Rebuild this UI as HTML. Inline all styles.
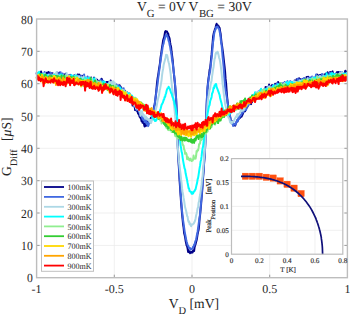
<!DOCTYPE html>
<html><head><meta charset="utf-8"><style>
html,body{margin:0;padding:0;background:#fff;}
svg{display:block;}
text{font-family:"Liberation Serif",serif;text-rendering:geometricPrecision;}
</style></head><body>
<svg width="350" height="315" viewBox="0 0 350 315">
<rect width="350" height="315" fill="#fff"/>
<g stroke="#e9e9e9" stroke-width="0.75" fill="none"><line x1="114.3" y1="19.0" x2="114.3" y2="277.7"/><line x1="192.0" y1="19.0" x2="192.0" y2="277.7"/><line x1="269.7" y1="19.0" x2="269.7" y2="277.7"/><line x1="36.6" y1="245.4" x2="347.4" y2="245.4"/><line x1="36.6" y1="213.0" x2="347.4" y2="213.0"/><line x1="36.6" y1="180.7" x2="347.4" y2="180.7"/><line x1="36.6" y1="148.3" x2="347.4" y2="148.3"/><line x1="36.6" y1="116.0" x2="347.4" y2="116.0"/><line x1="36.6" y1="83.7" x2="347.4" y2="83.7"/><line x1="36.6" y1="51.3" x2="347.4" y2="51.3"/></g>
<g stroke="#909090" stroke-width="0.9"><line x1="114.3" y1="277.7" x2="114.3" y2="274.7"/><line x1="114.3" y1="19.0" x2="114.3" y2="22.0"/><line x1="192.0" y1="277.7" x2="192.0" y2="274.7"/><line x1="192.0" y1="19.0" x2="192.0" y2="22.0"/><line x1="269.7" y1="277.7" x2="269.7" y2="274.7"/><line x1="269.7" y1="19.0" x2="269.7" y2="22.0"/><line x1="36.6" y1="245.4" x2="39.6" y2="245.4"/><line x1="347.4" y1="245.4" x2="344.4" y2="245.4"/><line x1="36.6" y1="213.0" x2="39.6" y2="213.0"/><line x1="347.4" y1="213.0" x2="344.4" y2="213.0"/><line x1="36.6" y1="180.7" x2="39.6" y2="180.7"/><line x1="347.4" y1="180.7" x2="344.4" y2="180.7"/><line x1="36.6" y1="148.3" x2="39.6" y2="148.3"/><line x1="347.4" y1="148.3" x2="344.4" y2="148.3"/><line x1="36.6" y1="116.0" x2="39.6" y2="116.0"/><line x1="347.4" y1="116.0" x2="344.4" y2="116.0"/><line x1="36.6" y1="83.7" x2="39.6" y2="83.7"/><line x1="347.4" y1="83.7" x2="344.4" y2="83.7"/><line x1="36.6" y1="51.3" x2="39.6" y2="51.3"/><line x1="347.4" y1="51.3" x2="344.4" y2="51.3"/></g>
<g fill="none" stroke-width="2" stroke-linejoin="round"><path d="M36.6 73.1L37.1 75.2L37.6 75.1L38.1 73.1L38.6 73.2L39.1 73.0L39.6 74.7L40.1 73.8L40.6 74.8L41.1 71.5L41.6 76.2L42.1 74.0L42.6 75.1L43.1 74.3L43.6 74.0L44.1 75.2L44.6 76.1L45.1 74.3L45.6 74.1L46.1 75.2L46.6 73.0L47.1 72.6L47.6 74.9L48.1 73.8L48.6 72.0L49.1 72.9L49.6 73.4L50.1 72.9L50.6 72.8L51.1 74.7L51.6 75.7L52.1 73.8L52.6 73.2L53.1 75.1L53.6 75.9L54.1 74.8L54.6 76.0L55.1 76.5L55.6 75.1L56.1 73.9L56.6 76.0L57.1 75.7L57.6 76.6L58.1 73.3L58.6 74.4L59.1 73.7L59.6 72.6L60.1 75.0L60.6 76.0L61.1 73.9L61.6 77.2L62.1 76.4L62.6 76.2L63.1 76.1L63.6 77.6L64.1 74.4L64.6 77.1L65.1 77.0L65.6 73.8L66.1 76.4L66.6 75.9L67.1 77.7L67.6 75.8L68.1 76.2L68.6 76.7L69.1 75.4L69.6 77.6L70.1 76.8L70.6 77.7L71.1 76.5L71.6 78.8L72.1 78.1L72.6 77.4L73.1 78.5L73.6 79.1L74.1 79.9L74.6 75.1L75.1 78.5L75.6 77.6L76.1 76.7L76.6 75.4L77.1 78.1L77.6 74.6L78.1 77.6L78.6 78.5L79.1 74.5L79.6 76.9L80.1 75.4L80.6 78.0L81.1 80.2L81.6 81.1L82.1 75.7L82.6 77.4L83.1 79.5L83.6 81.1L84.1 79.2L84.6 78.0L85.1 79.6L85.6 78.8L86.1 78.9L86.6 78.6L87.1 80.1L87.6 79.9L88.1 79.6L88.6 79.7L89.1 77.8L89.6 78.8L90.1 81.4L90.6 79.3L91.1 77.5L91.6 81.4L92.1 80.6L92.6 82.4L93.1 79.4L93.6 79.0L94.1 77.6L94.6 81.7L95.1 83.7L95.6 79.0L96.1 79.5L96.6 81.1L97.1 79.6L97.6 80.6L98.1 80.7L98.6 81.7L99.1 82.8L99.6 81.4L100.1 82.6L100.6 81.3L101.1 82.4L101.6 78.7L102.1 80.0L102.6 83.3L103.1 81.5L103.6 83.2L104.1 83.0L104.6 84.5L105.1 83.9L105.6 84.3L106.1 83.2L106.6 82.0L107.1 81.9L107.6 82.5L108.1 81.8L108.6 83.2L109.1 83.8L109.6 84.0L110.1 83.1L110.6 80.5L111.1 83.3L111.6 83.7L112.1 85.0L112.6 84.3L113.1 82.3L113.6 82.9L114.1 87.0L114.6 85.5L115.1 87.6L115.6 88.7L116.1 84.8L116.6 86.3L117.1 86.6L117.6 87.5L118.1 87.2L118.6 87.0L119.1 87.4L119.6 85.3L120.1 87.0L120.6 86.6L121.1 88.2L121.6 88.2L122.1 90.2L122.6 91.0L123.1 90.7L123.6 91.2L124.1 90.6L124.6 90.5L125.1 91.1L125.6 91.6L126.1 93.2L126.6 93.2L127.1 94.8L127.6 93.1L128.1 97.0L128.6 95.8L129.1 96.7L129.6 98.5L130.1 99.3L130.6 101.3L131.1 100.4L131.6 100.4L132.1 101.7L132.6 105.6L133.1 104.7L133.6 103.8L134.1 106.3L134.6 104.6L135.1 110.1L135.6 106.7L136.1 110.3L136.6 110.7L137.1 108.4L137.6 111.8L138.1 113.7L138.6 114.0L139.1 114.7L139.6 116.8L140.1 117.1L140.6 118.2L141.1 118.7L141.6 121.2L142.1 119.8L142.6 122.8L143.1 121.7L143.6 121.7L144.1 124.4L144.6 126.5L145.1 126.0L145.6 124.0L146.1 125.8L146.6 124.3L147.1 124.3L147.6 124.3L148.1 120.9L148.6 123.4L149.1 121.8L149.6 121.7L150.1 120.2L150.6 118.5L151.1 117.6L151.6 117.9L152.1 117.2L152.6 114.2L153.1 113.2L153.6 110.0L154.1 106.4L154.6 104.9L155.1 101.7L155.6 97.2L156.1 92.6L156.6 87.4L157.1 82.1L157.6 78.3L158.1 75.6L158.6 72.2L159.1 68.5L159.6 65.6L160.1 62.3L160.6 57.1L161.1 54.2L161.6 50.7L162.1 46.8L162.6 43.8L163.1 40.3L163.6 38.7L164.1 37.4L164.6 34.6L165.1 31.8L165.6 31.0L166.1 31.4L166.6 31.4L167.1 31.7L167.6 33.9L168.1 33.3L168.6 35.8L169.1 37.2L169.6 38.6L170.1 42.4L170.6 44.9L171.1 47.1L171.6 52.0L172.1 55.6L172.6 59.4L173.1 65.2L173.6 70.9L174.1 75.7L174.6 80.3L175.1 85.4L175.6 91.5L176.1 98.3L176.6 109.7L177.1 123.2L177.6 142.3L178.1 154.4L178.6 162.8L179.1 171.1L179.6 180.6L180.1 188.0L180.6 195.4L181.1 202.9L181.6 208.6L182.1 214.5L182.6 219.3L183.1 224.7L183.6 227.7L184.1 232.9L184.6 234.9L185.1 237.2L185.6 240.7L186.1 243.1L186.6 245.5L187.1 246.2L187.6 248.6L188.1 251.9L188.6 250.1L189.1 252.2L189.6 252.3L190.1 253.1L190.6 251.9L191.1 252.0L191.6 252.7L192.1 251.9L192.6 252.5L193.1 250.4L193.6 250.3L194.1 251.0L194.6 247.2L195.1 245.5L195.6 244.1L196.1 241.9L196.6 240.3L197.1 237.5L197.6 234.2L198.1 231.7L198.6 229.9L199.1 225.5L199.6 218.4L200.1 215.0L200.6 209.1L201.1 204.3L201.6 197.3L202.1 192.0L202.6 184.4L203.1 177.5L203.6 170.1L204.1 163.1L204.6 155.7L205.1 147.5L205.6 136.2L206.1 122.5L206.6 106.4L207.1 94.2L207.6 87.0L208.1 81.6L208.6 77.9L209.1 74.5L209.6 69.8L210.1 68.4L210.6 63.8L211.1 58.9L211.6 54.4L212.1 48.2L212.6 42.8L213.1 36.5L213.6 34.0L214.1 31.7L214.6 30.4L215.1 28.9L215.6 27.5L216.1 25.1L216.6 23.8L217.1 25.3L217.6 25.0L218.1 26.0L218.6 26.0L219.1 27.3L219.6 27.9L220.1 31.1L220.6 33.7L221.1 38.7L221.6 43.1L222.1 46.2L222.6 50.0L223.1 53.5L223.6 58.2L224.1 62.5L224.6 66.8L225.1 71.9L225.6 78.9L226.1 83.3L226.6 90.6L227.1 96.9L227.6 101.4L228.1 105.4L228.6 109.6L229.1 112.8L229.6 115.3L230.1 116.5L230.6 119.2L231.1 120.8L231.6 122.9L232.1 121.2L232.6 124.1L233.1 124.1L233.6 124.9L234.1 124.8L234.6 125.4L235.1 125.6L235.6 124.1L236.1 123.1L236.6 122.0L237.1 120.3L237.6 120.9L238.1 120.0L238.6 118.8L239.1 118.5L239.6 117.6L240.1 117.8L240.6 116.4L241.1 115.5L241.6 116.6L242.1 115.1L242.6 114.5L243.1 113.1L243.6 111.7L244.1 110.7L244.6 110.4L245.1 111.3L245.6 109.5L246.1 106.7L246.6 108.1L247.1 105.4L247.6 106.5L248.1 104.0L248.6 103.1L249.1 104.3L249.6 103.2L250.1 100.2L250.6 103.0L251.1 104.1L251.6 98.1L252.1 102.1L252.6 98.1L253.1 97.5L253.6 97.1L254.1 94.9L254.6 98.3L255.1 96.7L255.6 94.7L256.1 95.2L256.6 93.4L257.1 94.9L257.6 96.4L258.1 92.4L258.6 93.6L259.1 93.9L259.6 94.7L260.1 94.9L260.6 91.7L261.1 90.7L261.6 91.7L262.1 90.5L262.6 90.6L263.1 92.5L263.6 93.3L264.1 90.9L264.6 89.8L265.1 90.7L265.6 87.0L266.1 89.3L266.6 87.5L267.1 91.7L267.6 89.0L268.1 88.3L268.6 87.8L269.1 84.6L269.6 88.8L270.1 90.0L270.6 86.5L271.1 88.4L271.6 88.3L272.1 85.0L272.6 88.2L273.1 88.6L273.6 86.5L274.1 86.0L274.6 87.2L275.1 83.8L275.6 85.7L276.1 87.0L276.6 83.8L277.1 86.6L277.6 84.3L278.1 81.9L278.6 84.7L279.1 83.6L279.6 85.4L280.1 83.4L280.6 86.2L281.1 83.7L281.6 85.2L282.1 84.0L282.6 84.4L283.1 86.2L283.6 84.6L284.1 83.5L284.6 82.4L285.1 86.0L285.6 84.4L286.1 82.7L286.6 83.4L287.1 81.7L287.6 82.0L288.1 82.7L288.6 84.4L289.1 84.3L289.6 82.9L290.1 85.2L290.6 85.4L291.1 84.5L291.6 85.2L292.1 83.2L292.6 83.0L293.1 83.4L293.6 82.3L294.1 83.1L294.6 80.4L295.1 83.9L295.6 80.7L296.1 81.2L296.6 79.2L297.1 81.5L297.6 82.3L298.1 82.0L298.6 81.7L299.1 78.2L299.6 79.2L300.1 79.8L300.6 79.2L301.1 82.2L301.6 80.8L302.1 80.4L302.6 81.0L303.1 78.7L303.6 78.7L304.1 78.8L304.6 80.1L305.1 80.0L305.6 80.0L306.1 80.5L306.6 77.0L307.1 77.9L307.6 79.2L308.1 76.8L308.6 78.0L309.1 80.2L309.6 80.6L310.1 80.7L310.6 79.6L311.1 79.3L311.6 81.3L312.1 79.2L312.6 80.6L313.1 81.5L313.6 78.9L314.1 77.6L314.6 78.2L315.1 79.0L315.6 78.7L316.1 78.0L316.6 78.1L317.1 74.6L317.6 75.6L318.1 77.2L318.6 75.8L319.1 75.3L319.6 75.0L320.1 75.2L320.6 76.0L321.1 74.7L321.6 76.3L322.1 78.1L322.6 75.4L323.1 77.4L323.6 76.2L324.1 74.4L324.6 75.4L325.1 74.3L325.6 76.6L326.1 73.5L326.6 77.1L327.1 76.1L327.6 72.3L328.1 75.6L328.6 76.5L329.1 73.2L329.6 75.8L330.1 72.1L330.6 75.4L331.1 72.6L331.6 75.6L332.1 72.6L332.6 71.4L333.1 75.9L333.6 78.4L334.1 74.0L334.6 75.9L335.1 74.5L335.6 73.8L336.1 74.7L336.6 76.3L337.1 72.1L337.6 74.0L338.1 73.8L338.6 71.9L339.1 76.3L339.6 76.8L340.1 72.8L340.6 76.8L341.1 74.4L341.6 74.0L342.1 76.5L342.6 74.6L343.1 74.4L343.6 75.4L344.1 75.1L344.6 74.5L345.1 71.1L345.6 70.7L346.1 74.6L346.6 71.9L347.1 73.2" stroke="#000088"/><path d="M36.6 72.0L37.1 74.9L37.6 76.5L38.1 77.6L38.6 74.8L39.1 74.9L39.6 77.4L40.1 77.7L40.6 75.8L41.1 76.3L41.6 74.3L42.1 76.1L42.6 73.6L43.1 74.9L43.6 74.8L44.1 74.3L44.6 72.0L45.1 74.2L45.6 76.0L46.1 75.5L46.6 74.9L47.1 76.4L47.6 76.5L48.1 76.7L48.6 74.2L49.1 75.4L49.6 75.2L50.1 74.1L50.6 72.9L51.1 74.7L51.6 74.0L52.1 78.6L52.6 75.7L53.1 75.9L53.6 75.6L54.1 78.6L54.6 74.4L55.1 75.8L55.6 75.1L56.1 75.4L56.6 75.0L57.1 76.1L57.6 72.5L58.1 74.8L58.6 77.6L59.1 75.4L59.6 75.8L60.1 74.3L60.6 72.2L61.1 76.3L61.6 78.1L62.1 75.7L62.6 73.5L63.1 76.0L63.6 75.5L64.1 77.2L64.6 77.7L65.1 76.1L65.6 77.0L66.1 74.6L66.6 78.7L67.1 77.3L67.6 78.7L68.1 79.1L68.6 77.1L69.1 77.4L69.6 76.3L70.1 74.7L70.6 77.0L71.1 77.7L71.6 76.3L72.1 78.9L72.6 78.0L73.1 78.7L73.6 76.7L74.1 75.6L74.6 78.7L75.1 78.8L75.6 78.3L76.1 77.9L76.6 78.2L77.1 78.2L77.6 77.7L78.1 75.7L78.6 79.7L79.1 76.8L79.6 78.3L80.1 77.9L80.6 78.7L81.1 75.7L81.6 80.1L82.1 79.3L82.6 79.3L83.1 80.2L83.6 77.5L84.1 74.4L84.6 79.5L85.1 80.8L85.6 80.5L86.1 77.8L86.6 78.6L87.1 79.7L87.6 76.5L88.1 78.2L88.6 78.4L89.1 81.4L89.6 78.5L90.1 82.4L90.6 80.1L91.1 78.1L91.6 83.4L92.1 79.2L92.6 81.5L93.1 82.9L93.6 80.1L94.1 79.4L94.6 83.0L95.1 82.0L95.6 79.9L96.1 80.6L96.6 81.4L97.1 83.5L97.6 82.0L98.1 83.5L98.6 84.6L99.1 83.6L99.6 84.1L100.1 84.0L100.6 79.6L101.1 83.7L101.6 82.6L102.1 82.2L102.6 80.8L103.1 80.7L103.6 81.8L104.1 83.2L104.6 82.0L105.1 82.8L105.6 83.5L106.1 85.3L106.6 83.8L107.1 84.2L107.6 86.0L108.1 83.8L108.6 85.0L109.1 82.6L109.6 84.7L110.1 84.7L110.6 85.0L111.1 84.3L111.6 83.9L112.1 84.7L112.6 84.4L113.1 86.2L113.6 86.2L114.1 83.6L114.6 86.3L115.1 84.9L115.6 86.2L116.1 85.1L116.6 84.5L117.1 88.4L117.6 88.1L118.1 86.1L118.6 85.2L119.1 87.2L119.6 86.5L120.1 88.1L120.6 89.3L121.1 91.0L121.6 88.6L122.1 91.3L122.6 91.3L123.1 89.5L123.6 88.2L124.1 91.9L124.6 91.9L125.1 94.7L125.6 93.2L126.1 93.0L126.6 95.1L127.1 91.9L127.6 94.6L128.1 94.7L128.6 98.9L129.1 97.7L129.6 93.4L130.1 100.7L130.6 98.3L131.1 101.6L131.6 100.4L132.1 102.2L132.6 103.3L133.1 102.9L133.6 102.4L134.1 106.4L134.6 105.6L135.1 105.6L135.6 107.3L136.1 106.5L136.6 110.2L137.1 108.7L137.6 109.4L138.1 109.6L138.6 109.1L139.1 109.7L139.6 112.7L140.1 113.7L140.6 116.0L141.1 115.8L141.6 114.3L142.1 117.7L142.6 119.1L143.1 119.8L143.6 119.3L144.1 117.8L144.6 122.1L145.1 120.1L145.6 122.4L146.1 120.3L146.6 123.9L147.1 122.5L147.6 125.1L148.1 126.2L148.6 125.0L149.1 122.3L149.6 121.8L150.1 121.5L150.6 122.5L151.1 120.8L151.6 119.2L152.1 117.6L152.6 115.9L153.1 113.8L153.6 112.0L154.1 108.3L154.6 105.5L155.1 100.9L155.6 97.6L156.1 94.2L156.6 90.1L157.1 87.1L157.6 83.8L158.1 79.1L158.6 75.3L159.1 71.7L159.6 68.3L160.1 64.1L160.6 60.9L161.1 57.1L161.6 53.8L162.1 50.8L162.6 47.4L163.1 44.8L163.6 43.6L164.1 40.5L164.6 39.4L165.1 37.5L165.6 35.8L166.1 35.1L166.6 34.9L167.1 36.1L167.6 37.0L168.1 38.2L168.6 40.8L169.1 41.8L169.6 44.7L170.1 46.7L170.6 50.1L171.1 52.3L171.6 55.7L172.1 60.4L172.6 62.8L173.1 66.5L173.6 70.2L174.1 75.2L174.6 79.1L175.1 84.7L175.6 91.7L176.1 99.2L176.6 109.2L177.1 123.2L177.6 139.6L178.1 151.8L178.6 160.4L179.1 168.1L179.6 176.6L180.1 183.3L180.6 191.6L181.1 199.1L181.6 205.3L182.1 211.5L182.6 215.8L183.1 220.3L183.6 223.6L184.1 227.4L184.6 231.1L185.1 233.9L185.6 236.4L186.1 239.2L186.6 241.5L187.1 243.1L187.6 245.4L188.1 245.4L188.6 247.0L189.1 248.1L189.6 248.3L190.1 248.0L190.6 249.7L191.1 249.4L191.6 249.2L192.1 248.8L192.6 248.1L193.1 246.7L193.6 246.8L194.1 244.6L194.6 244.8L195.1 242.0L195.6 241.0L196.1 239.5L196.6 236.7L197.1 234.0L197.6 231.7L198.1 228.0L198.6 224.5L199.1 220.6L199.6 218.1L200.1 213.0L200.6 208.2L201.1 201.8L201.6 196.9L202.1 189.3L202.6 183.8L203.1 175.9L203.6 171.2L204.1 162.1L204.6 156.4L205.1 147.3L205.6 135.0L206.1 122.6L206.6 106.1L207.1 95.1L207.6 87.3L208.1 83.4L208.6 79.1L209.1 76.1L209.6 73.3L210.1 71.6L210.6 66.8L211.1 62.5L211.6 58.0L212.1 53.2L212.6 47.5L213.1 41.7L213.6 39.0L214.1 34.1L214.6 31.9L215.1 30.3L215.6 29.5L216.1 27.1L216.6 26.7L217.1 26.8L217.6 26.6L218.1 27.8L218.6 28.5L219.1 29.0L219.6 31.2L220.1 34.0L220.6 37.3L221.1 42.8L221.6 45.0L222.1 50.2L222.6 56.7L223.1 61.4L223.6 66.5L224.1 73.7L224.6 81.2L225.1 85.8L225.6 90.7L226.1 93.3L226.6 96.3L227.1 99.2L227.6 103.3L228.1 105.8L228.6 110.0L229.1 113.8L229.6 115.0L230.1 116.8L230.6 120.0L231.1 121.3L231.6 122.2L232.1 123.2L232.6 123.1L233.1 125.9L233.6 123.8L234.1 124.4L234.6 123.7L235.1 124.1L235.6 124.7L236.1 122.7L236.6 122.0L237.1 120.3L237.6 121.5L238.1 119.5L238.6 117.1L239.1 118.5L239.6 116.5L240.1 116.4L240.6 115.4L241.1 115.1L241.6 113.8L242.1 111.6L242.6 109.8L243.1 112.5L243.6 110.1L244.1 110.5L244.6 109.2L245.1 106.2L245.6 106.2L246.1 110.0L246.6 106.9L247.1 106.9L247.6 104.7L248.1 105.8L248.6 104.6L249.1 103.8L249.6 103.5L250.1 102.0L250.6 100.9L251.1 100.3L251.6 100.1L252.1 98.9L252.6 100.6L253.1 97.9L253.6 97.3L254.1 95.8L254.6 97.8L255.1 94.5L255.6 93.5L256.1 94.2L256.6 95.9L257.1 92.8L257.6 96.1L258.1 93.9L258.6 91.3L259.1 92.4L259.6 95.2L260.1 91.0L260.6 89.6L261.1 92.0L261.6 93.1L262.1 92.4L262.6 90.2L263.1 90.7L263.6 91.1L264.1 92.1L264.6 93.5L265.1 90.1L265.6 91.4L266.1 89.0L266.6 89.9L267.1 87.7L267.6 87.6L268.1 88.6L268.6 86.2L269.1 88.2L269.6 86.2L270.1 87.2L270.6 86.9L271.1 86.8L271.6 87.1L272.1 88.1L272.6 91.4L273.1 85.6L273.6 87.8L274.1 86.7L274.6 85.4L275.1 86.8L275.6 84.7L276.1 86.3L276.6 88.1L277.1 83.2L277.6 85.9L278.1 85.8L278.6 84.0L279.1 86.0L279.6 85.6L280.1 84.7L280.6 86.4L281.1 83.0L281.6 85.3L282.1 84.2L282.6 83.2L283.1 84.7L283.6 84.5L284.1 86.1L284.6 82.5L285.1 84.3L285.6 83.7L286.1 86.6L286.6 82.6L287.1 85.5L287.6 81.2L288.1 83.9L288.6 83.2L289.1 83.9L289.6 82.6L290.1 81.0L290.6 81.5L291.1 85.3L291.6 84.2L292.1 82.5L292.6 85.2L293.1 82.6L293.6 82.5L294.1 81.6L294.6 84.6L295.1 85.6L295.6 81.7L296.1 83.0L296.6 83.5L297.1 85.1L297.6 78.7L298.1 82.3L298.6 82.7L299.1 79.6L299.6 82.0L300.1 81.4L300.6 81.7L301.1 80.0L301.6 80.6L302.1 79.1L302.6 80.7L303.1 80.2L303.6 79.5L304.1 78.0L304.6 82.4L305.1 82.2L305.6 81.5L306.1 79.6L306.6 79.8L307.1 82.4L307.6 81.0L308.1 78.0L308.6 79.4L309.1 79.1L309.6 78.1L310.1 77.3L310.6 80.4L311.1 79.7L311.6 78.6L312.1 76.5L312.6 78.5L313.1 79.2L313.6 80.3L314.1 78.4L314.6 80.1L315.1 78.8L315.6 77.2L316.1 74.5L316.6 76.8L317.1 76.1L317.6 77.8L318.1 78.3L318.6 80.0L319.1 77.9L319.6 75.7L320.1 80.2L320.6 77.1L321.1 76.1L321.6 75.9L322.1 73.9L322.6 76.7L323.1 76.4L323.6 78.2L324.1 77.8L324.6 78.0L325.1 78.3L325.6 76.1L326.1 76.0L326.6 76.4L327.1 74.9L327.6 76.0L328.1 75.5L328.6 76.8L329.1 75.5L329.6 72.8L330.1 75.5L330.6 77.2L331.1 73.1L331.6 74.8L332.1 76.1L332.6 74.5L333.1 75.5L333.6 76.1L334.1 74.2L334.6 76.3L335.1 76.5L335.6 73.5L336.1 75.4L336.6 76.4L337.1 74.4L337.6 75.5L338.1 75.6L338.6 74.1L339.1 75.4L339.6 74.0L340.1 72.0L340.6 73.6L341.1 74.3L341.6 74.0L342.1 72.0L342.6 74.0L343.1 75.3L343.6 74.0L344.1 75.4L344.6 75.8L345.1 74.1L345.6 75.0L346.1 73.6L346.6 75.1L347.1 73.3" stroke="#4169e1"/><path d="M36.6 74.8L37.1 75.5L37.6 74.9L38.1 77.0L38.6 76.7L39.1 73.8L39.6 75.7L40.1 77.0L40.6 75.5L41.1 77.0L41.6 76.5L42.1 76.8L42.6 75.3L43.1 75.8L43.6 76.0L44.1 73.4L44.6 73.9L45.1 73.9L45.6 77.6L46.1 75.7L46.6 75.9L47.1 76.1L47.6 75.3L48.1 74.9L48.6 76.8L49.1 75.4L49.6 77.7L50.1 76.2L50.6 76.1L51.1 75.6L51.6 75.8L52.1 75.8L52.6 77.5L53.1 78.7L53.6 74.0L54.1 76.0L54.6 75.9L55.1 73.8L55.6 74.3L56.1 74.5L56.6 71.9L57.1 76.2L57.6 75.2L58.1 75.3L58.6 75.6L59.1 76.0L59.6 78.9L60.1 76.1L60.6 77.1L61.1 75.4L61.6 76.7L62.1 76.0L62.6 76.2L63.1 75.4L63.6 75.8L64.1 77.4L64.6 78.0L65.1 77.3L65.6 76.0L66.1 76.9L66.6 72.9L67.1 77.4L67.6 76.0L68.1 76.6L68.6 77.9L69.1 76.1L69.6 78.1L70.1 76.4L70.6 78.3L71.1 77.5L71.6 78.6L72.1 80.2L72.6 77.1L73.1 76.9L73.6 76.9L74.1 77.9L74.6 81.0L75.1 76.4L75.6 74.6L76.1 76.3L76.6 75.3L77.1 77.2L77.6 78.2L78.1 77.1L78.6 77.2L79.1 76.2L79.6 79.1L80.1 77.7L80.6 80.5L81.1 80.1L81.6 77.2L82.1 77.9L82.6 78.6L83.1 79.6L83.6 76.6L84.1 78.7L84.6 81.6L85.1 79.0L85.6 79.5L86.1 79.3L86.6 77.9L87.1 81.1L87.6 80.4L88.1 80.0L88.6 80.9L89.1 81.1L89.6 77.3L90.1 80.9L90.6 79.6L91.1 80.6L91.6 78.9L92.1 78.7L92.6 81.2L93.1 80.6L93.6 80.1L94.1 80.5L94.6 81.1L95.1 81.2L95.6 78.3L96.1 80.8L96.6 81.9L97.1 83.3L97.6 83.9L98.1 81.5L98.6 85.6L99.1 83.3L99.6 84.0L100.1 83.0L100.6 82.9L101.1 86.1L101.6 84.0L102.1 84.4L102.6 85.7L103.1 86.5L103.6 82.4L104.1 84.2L104.6 84.3L105.1 86.8L105.6 87.7L106.1 84.7L106.6 85.1L107.1 86.1L107.6 86.3L108.1 84.1L108.6 85.5L109.1 83.6L109.6 81.3L110.1 82.6L110.6 84.8L111.1 85.7L111.6 81.9L112.1 82.5L112.6 85.2L113.1 81.3L113.6 86.5L114.1 86.9L114.6 82.4L115.1 87.4L115.6 86.2L116.1 88.7L116.6 88.0L117.1 87.6L117.6 88.3L118.1 90.0L118.6 89.9L119.1 89.7L119.6 87.8L120.1 90.8L120.6 89.7L121.1 92.2L121.6 90.0L122.1 90.1L122.6 89.6L123.1 91.5L123.6 90.6L124.1 90.3L124.6 93.5L125.1 94.6L125.6 91.9L126.1 91.8L126.6 94.6L127.1 92.4L127.6 97.5L128.1 93.9L128.6 96.2L129.1 94.4L129.6 96.8L130.1 99.1L130.6 98.4L131.1 98.3L131.6 103.0L132.1 101.6L132.6 101.6L133.1 101.9L133.6 102.8L134.1 105.5L134.6 103.5L135.1 105.7L135.6 105.2L136.1 108.6L136.6 107.0L137.1 108.3L137.6 108.6L138.1 107.3L138.6 109.6L139.1 110.7L139.6 108.5L140.1 111.3L140.6 115.7L141.1 111.4L141.6 113.4L142.1 111.3L142.6 114.7L143.1 114.1L143.6 116.6L144.1 116.1L144.6 115.3L145.1 118.5L145.6 117.4L146.1 116.8L146.6 118.8L147.1 118.0L147.6 119.8L148.1 119.1L148.6 119.2L149.1 121.1L149.6 119.8L150.1 122.4L150.6 119.9L151.1 122.9L151.6 121.0L152.1 119.9L152.6 119.0L153.1 119.1L153.6 117.3L154.1 115.9L154.6 115.0L155.1 112.3L155.6 110.3L156.1 108.5L156.6 106.6L157.1 103.5L157.6 101.1L158.1 98.6L158.6 96.6L159.1 94.6L159.6 90.9L160.1 88.7L160.6 86.1L161.1 83.1L161.6 79.8L162.1 74.8L162.6 71.3L163.1 69.0L163.6 65.1L164.1 63.1L164.6 61.3L165.1 59.4L165.6 57.4L166.1 54.8L166.6 55.5L167.1 55.1L167.6 57.3L168.1 60.4L168.6 62.3L169.1 64.0L169.6 66.9L170.1 70.1L170.6 73.5L171.1 78.7L171.6 83.0L172.1 88.1L172.6 91.0L173.1 95.5L173.6 99.8L174.1 106.0L174.6 110.1L175.1 115.9L175.6 120.8L176.1 127.3L176.6 133.8L177.1 139.9L177.6 146.5L178.1 150.3L178.6 156.6L179.1 162.9L179.6 165.5L180.1 170.6L180.6 174.3L181.1 179.7L181.6 183.0L182.1 188.7L182.6 192.0L183.1 194.7L183.6 197.9L184.1 200.6L184.6 204.2L185.1 207.3L185.6 209.0L186.1 210.8L186.6 213.2L187.1 216.0L187.6 216.6L188.1 220.4L188.6 221.9L189.1 221.2L189.6 224.3L190.1 223.4L190.6 224.8L191.1 226.2L191.6 224.5L192.1 224.4L192.6 224.5L193.1 223.9L193.6 223.8L194.1 222.8L194.6 221.8L195.1 220.4L195.6 218.4L196.1 215.5L196.6 213.7L197.1 211.2L197.6 208.2L198.1 207.3L198.6 202.7L199.1 201.1L199.6 197.2L200.1 194.8L200.6 191.4L201.1 188.0L201.6 184.2L202.1 178.6L202.6 176.1L203.1 169.7L203.6 163.2L204.1 156.6L204.6 151.9L205.1 144.4L205.6 135.1L206.1 126.9L206.6 119.2L207.1 110.8L207.6 103.6L208.1 99.0L208.6 96.3L209.1 93.2L209.6 90.0L210.1 88.8L210.6 84.8L211.1 82.4L211.6 80.4L212.1 76.1L212.6 72.8L213.1 69.4L213.6 66.7L214.1 62.7L214.6 58.7L215.1 57.7L215.6 53.6L216.1 52.6L216.6 53.4L217.1 52.4L217.6 51.7L218.1 53.1L218.6 55.2L219.1 57.8L219.6 59.0L220.1 61.6L220.6 64.8L221.1 68.8L221.6 73.1L222.1 77.9L222.6 83.8L223.1 87.3L223.6 92.3L224.1 96.1L224.6 99.6L225.1 104.0L225.6 105.9L226.1 108.0L226.6 110.9L227.1 112.2L227.6 114.7L228.1 116.5L228.6 118.0L229.1 118.2L229.6 120.0L230.1 122.4L230.6 121.8L231.1 123.2L231.6 123.4L232.1 121.6L232.6 122.6L233.1 121.7L233.6 121.0L234.1 120.8L234.6 119.1L235.1 118.1L235.6 117.6L236.1 116.5L236.6 116.7L237.1 114.3L237.6 116.6L238.1 114.0L238.6 114.3L239.1 113.7L239.6 113.1L240.1 112.4L240.6 111.7L241.1 109.2L241.6 109.8L242.1 110.9L242.6 108.0L243.1 107.4L243.6 110.5L244.1 108.9L244.6 108.9L245.1 106.1L245.6 106.0L246.1 106.1L246.6 105.3L247.1 103.9L247.6 101.4L248.1 101.8L248.6 100.3L249.1 103.6L249.6 100.6L250.1 100.0L250.6 99.7L251.1 99.0L251.6 99.2L252.1 97.0L252.6 95.2L253.1 98.8L253.6 95.2L254.1 94.5L254.6 93.7L255.1 93.5L255.6 94.0L256.1 94.6L256.6 92.3L257.1 93.8L257.6 92.2L258.1 94.5L258.6 91.5L259.1 93.3L259.6 93.8L260.1 90.8L260.6 92.4L261.1 91.5L261.6 89.8L262.1 90.7L262.6 91.7L263.1 90.5L263.6 89.4L264.1 89.9L264.6 90.7L265.1 91.5L265.6 91.1L266.1 91.0L266.6 92.0L267.1 88.4L267.6 88.4L268.1 87.3L268.6 91.0L269.1 86.5L269.6 89.6L270.1 90.4L270.6 87.6L271.1 88.3L271.6 88.6L272.1 90.0L272.6 86.7L273.1 89.0L273.6 89.6L274.1 88.5L274.6 88.3L275.1 89.7L275.6 88.2L276.1 87.8L276.6 87.0L277.1 88.1L277.6 86.7L278.1 87.7L278.6 86.8L279.1 88.0L279.6 85.0L280.1 86.3L280.6 86.3L281.1 86.3L281.6 87.0L282.1 86.2L282.6 86.9L283.1 88.1L283.6 86.7L284.1 84.0L284.6 83.0L285.1 85.8L285.6 84.0L286.1 84.8L286.6 84.2L287.1 85.9L287.6 85.6L288.1 82.2L288.6 83.8L289.1 82.8L289.6 81.1L290.1 83.9L290.6 82.8L291.1 83.2L291.6 85.9L292.1 84.1L292.6 83.8L293.1 82.0L293.6 81.1L294.1 84.0L294.6 81.6L295.1 82.1L295.6 81.6L296.1 82.5L296.6 85.8L297.1 82.5L297.6 82.6L298.1 83.1L298.6 83.3L299.1 81.5L299.6 80.6L300.1 81.8L300.6 81.6L301.1 80.9L301.6 80.4L302.1 80.4L302.6 81.2L303.1 81.6L303.6 79.7L304.1 80.8L304.6 81.7L305.1 81.3L305.6 79.4L306.1 80.2L306.6 80.7L307.1 81.5L307.6 78.3L308.1 81.4L308.6 80.0L309.1 80.9L309.6 81.2L310.1 78.9L310.6 79.1L311.1 79.8L311.6 81.0L312.1 78.8L312.6 77.5L313.1 78.4L313.6 79.7L314.1 80.9L314.6 78.8L315.1 79.2L315.6 79.1L316.1 78.7L316.6 77.9L317.1 78.1L317.6 78.6L318.1 78.4L318.6 78.0L319.1 76.6L319.6 76.5L320.1 76.1L320.6 78.5L321.1 78.9L321.6 77.5L322.1 79.2L322.6 76.8L323.1 76.9L323.6 75.4L324.1 77.9L324.6 77.1L325.1 77.9L325.6 78.4L326.1 77.4L326.6 76.0L327.1 77.4L327.6 77.2L328.1 77.2L328.6 77.6L329.1 76.5L329.6 76.2L330.1 78.4L330.6 77.5L331.1 76.0L331.6 74.6L332.1 75.0L332.6 76.4L333.1 77.0L333.6 78.4L334.1 75.0L334.6 75.8L335.1 75.5L335.6 76.1L336.1 75.3L336.6 74.5L337.1 77.0L337.6 76.0L338.1 77.8L338.6 75.2L339.1 75.9L339.6 76.3L340.1 72.9L340.6 73.8L341.1 75.9L341.6 75.0L342.1 72.3L342.6 73.7L343.1 73.4L343.6 74.3L344.1 76.5L344.6 73.7L345.1 77.0L345.6 74.4L346.1 73.7L346.6 76.6L347.1 75.6" stroke="#add8e6"/><path d="M36.6 75.5L37.1 75.6L37.6 73.1L38.1 75.0L38.6 74.2L39.1 71.8L39.6 74.9L40.1 76.5L40.6 74.5L41.1 74.4L41.6 76.7L42.1 74.0L42.6 74.0L43.1 74.5L43.6 76.2L44.1 76.2L44.6 74.8L45.1 75.3L45.6 76.2L46.1 75.7L46.6 75.3L47.1 75.2L47.6 77.9L48.1 76.9L48.6 80.8L49.1 78.1L49.6 76.2L50.1 77.0L50.6 77.6L51.1 77.4L51.6 77.2L52.1 77.2L52.6 76.2L53.1 77.1L53.6 78.5L54.1 74.7L54.6 75.0L55.1 76.4L55.6 77.4L56.1 77.1L56.6 77.7L57.1 75.9L57.6 75.7L58.1 77.2L58.6 77.7L59.1 79.2L59.6 79.4L60.1 74.6L60.6 78.1L61.1 76.2L61.6 74.5L62.1 78.0L62.6 77.6L63.1 77.2L63.6 76.0L64.1 76.4L64.6 77.5L65.1 76.2L65.6 78.4L66.1 78.9L66.6 78.7L67.1 79.1L67.6 79.0L68.1 77.5L68.6 77.3L69.1 79.1L69.6 79.9L70.1 78.5L70.6 77.4L71.1 77.9L71.6 75.1L72.1 76.2L72.6 76.6L73.1 77.2L73.6 76.7L74.1 76.7L74.6 75.7L75.1 76.7L75.6 78.1L76.1 75.6L76.6 76.4L77.1 77.9L77.6 80.4L78.1 79.7L78.6 81.1L79.1 80.7L79.6 78.9L80.1 79.2L80.6 78.2L81.1 81.2L81.6 80.6L82.1 80.1L82.6 80.0L83.1 79.6L83.6 79.3L84.1 79.3L84.6 80.7L85.1 77.8L85.6 77.5L86.1 78.9L86.6 80.6L87.1 79.4L87.6 79.6L88.1 81.2L88.6 80.1L89.1 77.7L89.6 79.3L90.1 78.1L90.6 80.8L91.1 80.6L91.6 81.8L92.1 84.0L92.6 81.2L93.1 82.1L93.6 81.3L94.1 78.3L94.6 81.3L95.1 81.6L95.6 83.5L96.1 82.4L96.6 81.7L97.1 83.8L97.6 83.1L98.1 82.5L98.6 82.5L99.1 83.1L99.6 84.6L100.1 84.9L100.6 81.6L101.1 84.6L101.6 83.0L102.1 83.3L102.6 84.2L103.1 81.8L103.6 84.1L104.1 81.6L104.6 83.3L105.1 82.9L105.6 86.2L106.1 86.5L106.6 85.7L107.1 85.3L107.6 84.3L108.1 87.3L108.6 86.8L109.1 86.3L109.6 85.2L110.1 85.3L110.6 85.9L111.1 88.2L111.6 85.8L112.1 87.2L112.6 89.4L113.1 88.8L113.6 90.0L114.1 88.4L114.6 88.7L115.1 89.8L115.6 88.7L116.1 88.0L116.6 87.2L117.1 86.1L117.6 89.7L118.1 87.4L118.6 87.5L119.1 90.1L119.6 87.8L120.1 87.5L120.6 89.0L121.1 89.9L121.6 90.7L122.1 91.5L122.6 92.4L123.1 90.9L123.6 91.8L124.1 91.7L124.6 91.5L125.1 93.3L125.6 93.7L126.1 95.9L126.6 94.7L127.1 93.2L127.6 95.3L128.1 94.2L128.6 97.3L129.1 93.3L129.6 94.8L130.1 95.0L130.6 96.5L131.1 96.6L131.6 95.4L132.1 95.6L132.6 98.7L133.1 100.5L133.6 100.6L134.1 98.7L134.6 100.3L135.1 98.8L135.6 98.5L136.1 102.3L136.6 101.8L137.1 101.0L137.6 101.6L138.1 104.2L138.6 103.8L139.1 102.9L139.6 104.3L140.1 104.3L140.6 104.3L141.1 104.6L141.6 107.1L142.1 105.5L142.6 105.3L143.1 109.3L143.6 109.1L144.1 108.6L144.6 108.1L145.1 108.9L145.6 107.3L146.1 109.5L146.6 110.5L147.1 110.1L147.6 111.2L148.1 110.6L148.6 112.1L149.1 111.2L149.6 113.1L150.1 113.0L150.6 112.8L151.1 114.1L151.6 115.2L152.1 115.7L152.6 117.6L153.1 117.1L153.6 119.2L154.1 119.7L154.6 119.4L155.1 121.1L155.6 119.8L156.1 120.7L156.6 119.6L157.1 118.5L157.6 115.6L158.1 114.4L158.6 113.4L159.1 112.8L159.6 111.8L160.1 110.3L160.6 108.7L161.1 106.8L161.6 104.8L162.1 103.9L162.6 103.0L163.1 102.0L163.6 99.9L164.1 99.6L164.6 97.0L165.1 97.0L165.6 94.4L166.1 93.3L166.6 90.8L167.1 89.3L167.6 88.2L168.1 88.3L168.6 86.7L169.1 87.8L169.6 88.4L170.1 89.8L170.6 91.3L171.1 93.0L171.6 93.4L172.1 95.5L172.6 97.1L173.1 98.1L173.6 100.3L174.1 101.3L174.6 104.4L175.1 105.7L175.6 108.2L176.1 111.3L176.6 114.6L177.1 116.8L177.6 120.3L178.1 124.9L178.6 126.8L179.1 133.3L179.6 137.6L180.1 140.2L180.6 145.3L181.1 148.3L181.6 151.8L182.1 153.4L182.6 157.6L183.1 160.6L183.6 163.4L184.1 166.0L184.6 168.6L185.1 169.5L185.6 173.3L186.1 175.4L186.6 178.1L187.1 180.1L187.6 183.0L188.1 185.4L188.6 188.3L189.1 188.5L189.6 191.2L190.1 191.2L190.6 191.7L191.1 191.9L191.6 193.7L192.1 192.3L192.6 193.7L193.1 193.2L193.6 192.2L194.1 191.3L194.6 191.1L195.1 189.9L195.6 189.1L196.1 186.9L196.6 184.6L197.1 182.9L197.6 179.3L198.1 177.9L198.6 174.8L199.1 171.3L199.6 168.2L200.1 165.4L200.6 161.5L201.1 160.0L201.6 156.2L202.1 151.4L202.6 148.5L203.1 146.1L203.6 141.6L204.1 137.3L204.6 132.7L205.1 129.1L205.6 127.0L206.1 123.1L206.6 118.9L207.1 116.9L207.6 113.3L208.1 110.7L208.6 108.1L209.1 105.9L209.6 105.0L210.1 101.5L210.6 99.8L211.1 98.7L211.6 96.9L212.1 93.2L212.6 92.8L213.1 90.5L213.6 87.6L214.1 88.3L214.6 85.2L215.1 85.6L215.6 84.2L216.1 84.0L216.6 86.9L217.1 88.1L217.6 89.4L218.1 90.8L218.6 92.2L219.1 93.6L219.6 95.0L220.1 98.0L220.6 99.9L221.1 101.7L221.6 103.6L222.1 106.2L222.6 107.9L223.1 110.3L223.6 111.1L224.1 112.7L224.6 111.8L225.1 112.5L225.6 112.8L226.1 113.2L226.6 113.2L227.1 113.0L227.6 114.2L228.1 113.0L228.6 113.3L229.1 114.7L229.6 112.4L230.1 113.2L230.6 112.8L231.1 111.5L231.6 111.5L232.1 112.1L232.6 110.2L233.1 110.6L233.6 110.9L234.1 110.0L234.6 110.0L235.1 109.0L235.6 108.6L236.1 108.2L236.6 107.9L237.1 108.4L237.6 107.7L238.1 109.0L238.6 107.8L239.1 107.2L239.6 108.7L240.1 106.1L240.6 105.1L241.1 105.4L241.6 103.9L242.1 105.0L242.6 105.5L243.1 104.0L243.6 102.2L244.1 102.2L244.6 102.3L245.1 103.2L245.6 101.0L246.1 100.7L246.6 102.1L247.1 100.7L247.6 100.5L248.1 100.7L248.6 98.8L249.1 99.1L249.6 100.2L250.1 98.0L250.6 97.6L251.1 98.0L251.6 97.4L252.1 99.9L252.6 95.0L253.1 95.6L253.6 97.9L254.1 95.0L254.6 95.2L255.1 92.2L255.6 95.4L256.1 95.2L256.6 94.8L257.1 93.3L257.6 94.2L258.1 93.7L258.6 94.1L259.1 92.9L259.6 94.1L260.1 90.7L260.6 92.3L261.1 88.8L261.6 91.8L262.1 92.8L262.6 91.4L263.1 94.9L263.6 90.6L264.1 90.9L264.6 90.0L265.1 90.1L265.6 90.0L266.1 88.8L266.6 89.2L267.1 93.0L267.6 89.8L268.1 90.8L268.6 88.0L269.1 89.5L269.6 89.9L270.1 89.1L270.6 88.3L271.1 88.3L271.6 88.1L272.1 89.3L272.6 90.3L273.1 86.6L273.6 85.2L274.1 87.7L274.6 87.4L275.1 88.3L275.6 88.8L276.1 86.1L276.6 89.3L277.1 86.5L277.6 84.2L278.1 87.7L278.6 86.9L279.1 86.9L279.6 84.3L280.1 85.9L280.6 86.7L281.1 86.7L281.6 87.6L282.1 87.9L282.6 88.3L283.1 87.6L283.6 85.8L284.1 87.9L284.6 85.7L285.1 86.5L285.6 84.6L286.1 83.0L286.6 82.0L287.1 84.9L287.6 83.8L288.1 84.2L288.6 85.4L289.1 82.5L289.6 81.8L290.1 84.2L290.6 84.3L291.1 83.1L291.6 83.0L292.1 81.8L292.6 83.8L293.1 83.3L293.6 84.7L294.1 85.2L294.6 83.0L295.1 84.0L295.6 83.5L296.1 83.9L296.6 84.5L297.1 83.4L297.6 83.3L298.1 83.4L298.6 81.9L299.1 82.8L299.6 83.3L300.1 84.8L300.6 84.7L301.1 86.0L301.6 81.4L302.1 82.7L302.6 80.4L303.1 81.7L303.6 79.8L304.1 83.1L304.6 82.4L305.1 80.0L305.6 81.7L306.1 82.6L306.6 84.0L307.1 82.6L307.6 81.6L308.1 81.2L308.6 82.3L309.1 81.9L309.6 80.7L310.1 79.4L310.6 81.9L311.1 78.8L311.6 79.2L312.1 80.7L312.6 79.6L313.1 80.8L313.6 77.7L314.1 80.1L314.6 77.7L315.1 77.6L315.6 78.7L316.1 80.1L316.6 78.7L317.1 77.6L317.6 80.8L318.1 77.9L318.6 79.0L319.1 79.3L319.6 78.2L320.1 79.1L320.6 79.5L321.1 78.7L321.6 79.8L322.1 77.9L322.6 77.2L323.1 78.3L323.6 76.4L324.1 77.5L324.6 76.7L325.1 76.2L325.6 77.4L326.1 77.8L326.6 73.2L327.1 76.4L327.6 76.9L328.1 77.5L328.6 76.6L329.1 75.6L329.6 76.9L330.1 77.8L330.6 73.8L331.1 74.5L331.6 75.4L332.1 72.9L332.6 75.3L333.1 76.8L333.6 74.3L334.1 75.6L334.6 73.9L335.1 75.4L335.6 75.5L336.1 76.7L336.6 75.5L337.1 76.5L337.6 76.0L338.1 75.2L338.6 77.8L339.1 75.2L339.6 76.7L340.1 79.8L340.6 77.8L341.1 75.2L341.6 76.8L342.1 75.4L342.6 75.8L343.1 74.0L343.6 76.4L344.1 73.5L344.6 75.7L345.1 75.3L345.6 76.0L346.1 77.8L346.6 72.9L347.1 73.3" stroke="#00ffff"/><path d="M36.6 76.3L37.1 77.4L37.6 76.9L38.1 77.1L38.6 77.0L39.1 77.3L39.6 76.8L40.1 77.8L40.6 75.3L41.1 76.6L41.6 75.2L42.1 77.0L42.6 76.1L43.1 77.8L43.6 78.7L44.1 75.5L44.6 75.7L45.1 77.0L45.6 78.6L46.1 78.0L46.6 77.7L47.1 77.4L47.6 77.1L48.1 78.3L48.6 78.6L49.1 78.3L49.6 77.5L50.1 75.6L50.6 76.8L51.1 77.3L51.6 75.9L52.1 77.8L52.6 75.6L53.1 77.2L53.6 78.1L54.1 78.8L54.6 78.7L55.1 80.0L55.6 77.9L56.1 77.6L56.6 80.1L57.1 77.3L57.6 78.0L58.1 76.4L58.6 80.1L59.1 79.5L59.6 77.3L60.1 75.8L60.6 78.6L61.1 78.3L61.6 79.6L62.1 80.8L62.6 78.3L63.1 77.8L63.6 77.7L64.1 77.6L64.6 76.1L65.1 76.6L65.6 77.9L66.1 75.7L66.6 76.0L67.1 79.5L67.6 77.0L68.1 79.3L68.6 79.9L69.1 78.5L69.6 79.7L70.1 78.5L70.6 77.6L71.1 78.8L71.6 78.7L72.1 78.6L72.6 78.2L73.1 77.2L73.6 79.2L74.1 77.7L74.6 77.3L75.1 79.5L75.6 76.5L76.1 78.0L76.6 80.3L77.1 78.9L77.6 81.0L78.1 78.8L78.6 78.8L79.1 79.6L79.6 79.4L80.1 80.6L80.6 80.5L81.1 82.4L81.6 81.9L82.1 80.9L82.6 80.6L83.1 85.9L83.6 81.0L84.1 83.0L84.6 79.2L85.1 80.2L85.6 82.7L86.1 79.8L86.6 80.3L87.1 81.6L87.6 81.0L88.1 81.9L88.6 82.3L89.1 83.3L89.6 82.3L90.1 82.5L90.6 84.1L91.1 84.3L91.6 82.3L92.1 80.3L92.6 81.8L93.1 84.8L93.6 82.9L94.1 82.5L94.6 83.1L95.1 85.6L95.6 83.4L96.1 82.6L96.6 82.1L97.1 81.5L97.6 86.7L98.1 83.0L98.6 83.7L99.1 82.6L99.6 84.6L100.1 82.4L100.6 81.5L101.1 83.6L101.6 84.9L102.1 87.7L102.6 84.9L103.1 83.8L103.6 85.2L104.1 84.9L104.6 84.4L105.1 85.5L105.6 85.3L106.1 84.0L106.6 86.1L107.1 84.6L107.6 85.0L108.1 84.4L108.6 85.7L109.1 86.1L109.6 86.7L110.1 85.4L110.6 87.5L111.1 86.2L111.6 87.0L112.1 88.2L112.6 89.2L113.1 86.4L113.6 85.6L114.1 87.4L114.6 88.9L115.1 87.1L115.6 90.8L116.1 85.6L116.6 90.3L117.1 90.2L117.6 90.8L118.1 88.8L118.6 92.1L119.1 92.1L119.6 92.7L120.1 91.4L120.6 91.6L121.1 93.7L121.6 92.5L122.1 91.7L122.6 91.4L123.1 92.9L123.6 91.3L124.1 94.3L124.6 93.9L125.1 92.1L125.6 95.4L126.1 96.8L126.6 95.9L127.1 94.0L127.6 95.4L128.1 97.6L128.6 95.1L129.1 97.0L129.6 99.0L130.1 97.0L130.6 96.8L131.1 99.0L131.6 100.7L132.1 99.7L132.6 97.7L133.1 97.3L133.6 99.2L134.1 97.6L134.6 100.6L135.1 102.1L135.6 97.7L136.1 101.1L136.6 102.2L137.1 101.1L137.6 102.8L138.1 103.2L138.6 104.6L139.1 106.8L139.6 104.2L140.1 102.8L140.6 102.8L141.1 102.5L141.6 105.5L142.1 105.4L142.6 105.9L143.1 105.8L143.6 108.2L144.1 107.7L144.6 107.7L145.1 106.1L145.6 106.7L146.1 105.7L146.6 106.7L147.1 108.3L147.6 106.8L148.1 107.7L148.6 111.9L149.1 109.8L149.6 108.6L150.1 109.4L150.6 111.4L151.1 113.0L151.6 112.2L152.1 113.8L152.6 113.6L153.1 112.2L153.6 115.3L154.1 113.4L154.6 117.0L155.1 114.1L155.6 115.1L156.1 114.5L156.6 115.4L157.1 116.5L157.6 115.6L158.1 117.9L158.6 117.1L159.1 118.9L159.6 117.7L160.1 120.0L160.6 120.9L161.1 119.4L161.6 123.6L162.1 122.7L162.6 122.2L163.1 122.0L163.6 123.0L164.1 123.4L164.6 124.4L165.1 122.8L165.6 124.8L166.1 124.4L166.6 128.1L167.1 127.3L167.6 128.9L168.1 129.9L168.6 127.8L169.1 130.3L169.6 128.8L170.1 129.3L170.6 127.9L171.1 129.7L171.6 132.1L172.1 131.3L172.6 131.0L173.1 131.9L173.6 131.3L174.1 132.0L174.6 131.9L175.1 135.7L175.6 136.2L176.1 135.0L176.6 133.8L177.1 135.6L177.6 138.7L178.1 134.6L178.6 136.0L179.1 136.5L179.6 138.3L180.1 136.2L180.6 139.2L181.1 138.8L181.6 140.5L182.1 140.9L182.6 144.7L183.1 144.9L183.6 145.8L184.1 149.4L184.6 150.1L185.1 153.8L185.6 152.6L186.1 153.2L186.6 154.3L187.1 159.2L187.6 158.3L188.1 157.4L188.6 159.6L189.1 158.8L189.6 160.4L190.1 158.8L190.6 158.6L191.1 160.0L191.6 161.0L192.1 160.4L192.6 160.5L193.1 159.3L193.6 155.6L194.1 158.7L194.6 158.2L195.1 158.4L195.6 158.6L196.1 155.8L196.6 150.9L197.1 151.6L197.6 149.9L198.1 150.3L198.6 147.9L199.1 144.1L199.6 144.1L200.1 143.0L200.6 139.1L201.1 140.2L201.6 138.4L202.1 139.2L202.6 136.2L203.1 134.0L203.6 133.0L204.1 132.2L204.6 133.4L205.1 130.3L205.6 127.6L206.1 133.7L206.6 130.5L207.1 129.0L207.6 131.7L208.1 126.9L208.6 127.3L209.1 126.6L209.6 127.2L210.1 126.2L210.6 127.6L211.1 125.4L211.6 127.0L212.1 125.0L212.6 121.6L213.1 123.0L213.6 121.4L214.1 122.8L214.6 122.4L215.1 124.7L215.6 121.1L216.1 118.9L216.6 121.1L217.1 119.0L217.6 123.0L218.1 121.0L218.6 121.5L219.1 118.5L219.6 117.4L220.1 118.3L220.6 115.5L221.1 115.6L221.6 115.3L222.1 115.2L222.6 113.1L223.1 112.0L223.6 116.1L224.1 112.6L224.6 113.1L225.1 113.9L225.6 113.4L226.1 111.6L226.6 112.0L227.1 114.1L227.6 113.5L228.1 112.2L228.6 113.3L229.1 108.3L229.6 110.7L230.1 109.9L230.6 107.7L231.1 109.9L231.6 110.6L232.1 109.9L232.6 106.9L233.1 108.8L233.6 108.7L234.1 107.9L234.6 108.3L235.1 108.3L235.6 109.4L236.1 107.1L236.6 109.7L237.1 106.1L237.6 105.9L238.1 106.5L238.6 105.0L239.1 104.1L239.6 105.5L240.1 100.9L240.6 101.1L241.1 105.8L241.6 104.1L242.1 103.8L242.6 103.2L243.1 102.9L243.6 101.2L244.1 101.8L244.6 100.6L245.1 103.6L245.6 103.1L246.1 102.1L246.6 101.9L247.1 101.1L247.6 99.8L248.1 103.2L248.6 101.8L249.1 100.1L249.6 100.4L250.1 101.0L250.6 100.7L251.1 99.6L251.6 99.6L252.1 97.7L252.6 99.8L253.1 99.2L253.6 99.0L254.1 96.2L254.6 98.4L255.1 98.1L255.6 97.9L256.1 93.1L256.6 93.7L257.1 96.1L257.6 93.8L258.1 95.5L258.6 94.6L259.1 95.7L259.6 93.5L260.1 92.7L260.6 94.3L261.1 92.9L261.6 91.3L262.1 90.2L262.6 97.0L263.1 91.8L263.6 91.7L264.1 89.2L264.6 90.5L265.1 91.7L265.6 92.5L266.1 93.0L266.6 90.7L267.1 91.9L267.6 92.4L268.1 90.0L268.6 90.4L269.1 87.7L269.6 88.7L270.1 87.7L270.6 90.5L271.1 89.3L271.6 91.6L272.1 89.9L272.6 90.7L273.1 90.1L273.6 89.5L274.1 87.7L274.6 90.9L275.1 88.2L275.6 85.8L276.1 87.5L276.6 86.5L277.1 89.4L277.6 89.1L278.1 89.7L278.6 90.6L279.1 86.8L279.6 85.1L280.1 86.4L280.6 87.6L281.1 83.1L281.6 85.2L282.1 87.1L282.6 84.9L283.1 85.5L283.6 84.3L284.1 87.6L284.6 87.7L285.1 83.9L285.6 84.3L286.1 85.9L286.6 86.7L287.1 86.4L287.6 86.6L288.1 87.5L288.6 88.1L289.1 89.3L289.6 87.1L290.1 86.1L290.6 86.6L291.1 89.1L291.6 86.9L292.1 86.8L292.6 87.1L293.1 86.2L293.6 87.7L294.1 83.4L294.6 85.0L295.1 85.5L295.6 85.9L296.1 84.1L296.6 82.1L297.1 84.0L297.6 83.9L298.1 84.2L298.6 85.3L299.1 84.2L299.6 81.9L300.1 82.0L300.6 83.2L301.1 84.6L301.6 82.7L302.1 82.7L302.6 80.4L303.1 81.9L303.6 81.9L304.1 82.9L304.6 82.1L305.1 81.3L305.6 80.9L306.1 82.8L306.6 81.6L307.1 84.2L307.6 82.7L308.1 81.7L308.6 83.6L309.1 80.8L309.6 83.3L310.1 81.0L310.6 82.5L311.1 80.6L311.6 79.7L312.1 78.7L312.6 81.0L313.1 81.5L313.6 78.9L314.1 83.5L314.6 80.8L315.1 79.4L315.6 82.7L316.1 79.4L316.6 81.8L317.1 76.2L317.6 82.7L318.1 80.2L318.6 80.0L319.1 80.2L319.6 78.0L320.1 81.2L320.6 80.7L321.1 80.1L321.6 78.5L322.1 77.3L322.6 79.2L323.1 79.4L323.6 78.7L324.1 77.9L324.6 77.3L325.1 78.7L325.6 79.9L326.1 78.0L326.6 77.2L327.1 81.3L327.6 75.8L328.1 77.9L328.6 77.8L329.1 80.0L329.6 78.1L330.1 75.7L330.6 76.6L331.1 78.4L331.6 78.4L332.1 77.4L332.6 77.6L333.1 76.0L333.6 75.8L334.1 76.6L334.6 76.5L335.1 76.7L335.6 75.2L336.1 78.7L336.6 74.2L337.1 77.3L337.6 76.6L338.1 77.8L338.6 77.7L339.1 74.1L339.6 76.7L340.1 77.0L340.6 77.1L341.1 76.1L341.6 75.3L342.1 77.9L342.6 76.0L343.1 75.3L343.6 76.2L344.1 74.8L344.6 74.8L345.1 75.6L345.6 79.1L346.1 75.6L346.6 75.3L347.1 74.5" stroke="#90ee90"/><path d="M36.6 78.2L37.1 77.3L37.6 77.3L38.1 76.4L38.6 77.6L39.1 77.2L39.6 76.9L40.1 74.1L40.6 75.9L41.1 75.7L41.6 74.2L42.1 79.0L42.6 79.8L43.1 79.1L43.6 78.4L44.1 79.6L44.6 75.2L45.1 79.4L45.6 74.5L46.1 77.7L46.6 77.4L47.1 77.6L47.6 78.3L48.1 78.3L48.6 76.7L49.1 76.5L49.6 76.3L50.1 77.8L50.6 77.1L51.1 75.8L51.6 79.4L52.1 76.4L52.6 77.2L53.1 76.5L53.6 76.7L54.1 78.8L54.6 77.1L55.1 76.1L55.6 76.9L56.1 76.1L56.6 75.8L57.1 79.3L57.6 79.6L58.1 76.3L58.6 80.8L59.1 81.5L59.6 77.2L60.1 79.7L60.6 79.1L61.1 80.4L61.6 75.6L62.1 80.4L62.6 79.0L63.1 80.3L63.6 80.7L64.1 75.6L64.6 78.9L65.1 79.0L65.6 80.2L66.1 80.9L66.6 80.8L67.1 78.5L67.6 80.0L68.1 78.3L68.6 80.6L69.1 79.5L69.6 79.5L70.1 79.7L70.6 77.0L71.1 78.2L71.6 77.4L72.1 80.4L72.6 80.9L73.1 77.8L73.6 76.8L74.1 80.5L74.6 79.2L75.1 79.1L75.6 84.1L76.1 80.1L76.6 79.6L77.1 80.8L77.6 81.3L78.1 82.9L78.6 80.9L79.1 79.2L79.6 80.3L80.1 83.5L80.6 78.7L81.1 80.9L81.6 82.5L82.1 81.1L82.6 80.9L83.1 80.2L83.6 81.4L84.1 81.8L84.6 81.7L85.1 82.7L85.6 81.6L86.1 83.3L86.6 81.6L87.1 82.2L87.6 80.4L88.1 83.6L88.6 83.1L89.1 82.6L89.6 80.6L90.1 82.3L90.6 78.1L91.1 82.0L91.6 83.6L92.1 82.4L92.6 83.8L93.1 84.5L93.6 86.2L94.1 83.7L94.6 81.5L95.1 80.5L95.6 84.0L96.1 85.2L96.6 85.9L97.1 84.6L97.6 84.0L98.1 83.6L98.6 84.6L99.1 85.1L99.6 85.6L100.1 84.8L100.6 87.8L101.1 85.0L101.6 86.1L102.1 86.8L102.6 87.0L103.1 84.8L103.6 83.6L104.1 84.5L104.6 86.8L105.1 87.0L105.6 86.8L106.1 86.9L106.6 87.8L107.1 84.9L107.6 90.1L108.1 90.2L108.6 87.4L109.1 86.4L109.6 87.1L110.1 84.7L110.6 87.0L111.1 85.8L111.6 87.0L112.1 86.6L112.6 90.0L113.1 86.1L113.6 88.3L114.1 87.9L114.6 91.4L115.1 90.9L115.6 87.4L116.1 88.8L116.6 90.6L117.1 90.0L117.6 91.5L118.1 91.0L118.6 89.4L119.1 90.2L119.6 91.6L120.1 91.3L120.6 91.8L121.1 92.6L121.6 92.3L122.1 94.9L122.6 91.4L123.1 94.3L123.6 94.0L124.1 95.6L124.6 96.8L125.1 96.7L125.6 96.7L126.1 96.8L126.6 96.7L127.1 96.3L127.6 97.8L128.1 98.0L128.6 98.3L129.1 97.8L129.6 98.1L130.1 95.4L130.6 97.6L131.1 98.7L131.6 100.6L132.1 101.4L132.6 100.3L133.1 98.8L133.6 101.1L134.1 101.9L134.6 102.3L135.1 100.9L135.6 100.9L136.1 101.0L136.6 100.7L137.1 103.7L137.6 102.8L138.1 105.6L138.6 105.5L139.1 104.5L139.6 102.2L140.1 104.4L140.6 104.6L141.1 102.6L141.6 103.1L142.1 104.5L142.6 107.5L143.1 105.6L143.6 104.6L144.1 106.7L144.6 107.8L145.1 105.8L145.6 110.5L146.1 107.6L146.6 110.3L147.1 110.4L147.6 109.0L148.1 110.3L148.6 110.5L149.1 110.4L149.6 112.2L150.1 111.6L150.6 109.3L151.1 112.5L151.6 111.2L152.1 112.6L152.6 113.7L153.1 113.7L153.6 115.3L154.1 114.1L154.6 113.9L155.1 117.1L155.6 116.0L156.1 115.0L156.6 115.5L157.1 114.8L157.6 115.8L158.1 115.0L158.6 119.0L159.1 118.5L159.6 114.2L160.1 116.3L160.6 118.0L161.1 117.4L161.6 116.0L162.1 120.6L162.6 118.4L163.1 121.8L163.6 122.0L164.1 124.1L164.6 121.3L165.1 125.3L165.6 121.8L166.1 126.4L166.6 126.3L167.1 125.9L167.6 124.3L168.1 128.6L168.6 127.7L169.1 124.5L169.6 124.1L170.1 127.4L170.6 127.1L171.1 129.9L171.6 129.7L172.1 129.9L172.6 129.3L173.1 132.0L173.6 130.8L174.1 129.7L174.6 128.8L175.1 133.4L175.6 132.3L176.1 131.1L176.6 133.3L177.1 134.3L177.6 136.3L178.1 132.6L178.6 135.0L179.1 137.3L179.6 137.4L180.1 138.0L180.6 140.1L181.1 136.3L181.6 137.0L182.1 139.5L182.6 140.4L183.1 139.1L183.6 138.4L184.1 137.5L184.6 140.6L185.1 140.3L185.6 137.7L186.1 138.6L186.6 138.1L187.1 140.5L187.6 139.3L188.1 141.0L188.6 141.2L189.1 139.8L189.6 141.0L190.1 141.1L190.6 141.8L191.1 139.1L191.6 140.6L192.1 142.8L192.6 141.4L193.1 139.8L193.6 140.4L194.1 142.9L194.6 139.0L195.1 138.6L195.6 140.5L196.1 138.2L196.6 135.7L197.1 135.3L197.6 137.3L198.1 136.2L198.6 139.1L199.1 136.0L199.6 134.4L200.1 134.7L200.6 134.0L201.1 137.3L201.6 134.1L202.1 137.0L202.6 134.9L203.1 136.4L203.6 132.6L204.1 133.6L204.6 129.2L205.1 130.8L205.6 129.8L206.1 131.9L206.6 129.0L207.1 129.7L207.6 127.4L208.1 126.3L208.6 127.2L209.1 128.5L209.6 126.4L210.1 128.5L210.6 125.5L211.1 125.1L211.6 124.5L212.1 124.1L212.6 122.9L213.1 123.2L213.6 121.8L214.1 120.8L214.6 123.8L215.1 122.6L215.6 120.5L216.1 120.3L216.6 118.8L217.1 121.4L217.6 119.4L218.1 123.1L218.6 117.4L219.1 119.8L219.6 120.4L220.1 117.5L220.6 120.5L221.1 118.3L221.6 118.0L222.1 114.9L222.6 116.8L223.1 116.8L223.6 115.2L224.1 117.1L224.6 114.5L225.1 110.2L225.6 113.6L226.1 115.2L226.6 111.5L227.1 113.0L227.6 110.5L228.1 111.1L228.6 106.9L229.1 108.2L229.6 110.2L230.1 109.4L230.6 107.4L231.1 110.7L231.6 109.9L232.1 107.9L232.6 106.2L233.1 109.7L233.6 107.8L234.1 109.4L234.6 109.9L235.1 107.5L235.6 107.6L236.1 108.6L236.6 106.8L237.1 103.5L237.6 106.9L238.1 106.1L238.6 104.5L239.1 105.4L239.6 103.7L240.1 102.8L240.6 105.0L241.1 101.4L241.6 101.1L242.1 102.9L242.6 101.1L243.1 104.1L243.6 101.9L244.1 100.0L244.6 101.8L245.1 98.5L245.6 103.9L246.1 101.6L246.6 102.7L247.1 102.5L247.6 102.0L248.1 100.0L248.6 102.4L249.1 100.5L249.6 100.0L250.1 97.6L250.6 101.8L251.1 99.2L251.6 98.4L252.1 95.5L252.6 99.3L253.1 97.9L253.6 99.6L254.1 97.2L254.6 95.8L255.1 97.8L255.6 94.4L256.1 94.4L256.6 96.1L257.1 96.6L257.6 97.1L258.1 95.0L258.6 95.2L259.1 95.6L259.6 94.6L260.1 94.4L260.6 95.5L261.1 94.2L261.6 94.8L262.1 96.5L262.6 94.7L263.1 93.3L263.6 94.7L264.1 93.7L264.6 94.0L265.1 91.9L265.6 91.6L266.1 90.7L266.6 94.1L267.1 94.7L267.6 94.2L268.1 93.2L268.6 92.6L269.1 92.3L269.6 93.2L270.1 91.6L270.6 89.6L271.1 91.9L271.6 91.3L272.1 90.6L272.6 89.5L273.1 88.8L273.6 89.5L274.1 89.3L274.6 87.8L275.1 88.8L275.6 87.9L276.1 90.5L276.6 86.9L277.1 86.7L277.6 86.8L278.1 87.7L278.6 86.0L279.1 90.1L279.6 88.7L280.1 84.1L280.6 88.0L281.1 88.0L281.6 85.6L282.1 87.4L282.6 87.5L283.1 86.7L283.6 86.7L284.1 87.1L284.6 86.6L285.1 87.1L285.6 85.1L286.1 87.7L286.6 85.4L287.1 88.3L287.6 89.4L288.1 88.6L288.6 85.9L289.1 86.4L289.6 85.2L290.1 86.6L290.6 84.9L291.1 84.6L291.6 85.4L292.1 84.1L292.6 87.0L293.1 85.9L293.6 85.4L294.1 84.6L294.6 84.0L295.1 85.4L295.6 84.5L296.1 84.4L296.6 87.0L297.1 84.5L297.6 83.8L298.1 83.6L298.6 85.9L299.1 83.3L299.6 83.2L300.1 85.4L300.6 85.7L301.1 85.6L301.6 82.6L302.1 84.2L302.6 83.1L303.1 84.0L303.6 81.3L304.1 83.2L304.6 84.4L305.1 82.7L305.6 79.5L306.1 84.0L306.6 83.0L307.1 81.4L307.6 82.1L308.1 81.8L308.6 83.9L309.1 82.0L309.6 80.0L310.1 80.6L310.6 83.7L311.1 83.4L311.6 83.3L312.1 80.6L312.6 82.0L313.1 82.8L313.6 81.8L314.1 82.7L314.6 83.2L315.1 83.2L315.6 82.3L316.1 82.1L316.6 79.8L317.1 81.3L317.6 82.6L318.1 83.7L318.6 81.6L319.1 82.3L319.6 80.7L320.1 79.1L320.6 81.3L321.1 81.1L321.6 79.2L322.1 79.3L322.6 80.3L323.1 79.1L323.6 81.0L324.1 78.6L324.6 81.6L325.1 79.3L325.6 80.7L326.1 78.0L326.6 82.0L327.1 80.9L327.6 83.6L328.1 78.3L328.6 77.6L329.1 80.3L329.6 80.6L330.1 77.0L330.6 80.2L331.1 80.2L331.6 81.1L332.1 79.1L332.6 76.5L333.1 75.9L333.6 81.7L334.1 79.0L334.6 79.2L335.1 76.9L335.6 76.6L336.1 76.3L336.6 75.3L337.1 75.8L337.6 74.6L338.1 75.8L338.6 77.9L339.1 76.6L339.6 75.9L340.1 79.4L340.6 78.9L341.1 77.1L341.6 74.7L342.1 79.1L342.6 78.9L343.1 76.2L343.6 79.0L344.1 75.5L344.6 76.4L345.1 75.9L345.6 76.8L346.1 76.6L346.6 78.7L347.1 76.3" stroke="#32cd32"/><path d="M36.6 78.2L37.1 76.8L37.6 75.7L38.1 78.7L38.6 74.7L39.1 79.2L39.6 76.8L40.1 79.4L40.6 77.2L41.1 80.8L41.6 76.9L42.1 74.8L42.6 82.5L43.1 78.1L43.6 78.0L44.1 78.3L44.6 78.1L45.1 78.6L45.6 77.2L46.1 82.1L46.6 77.5L47.1 79.8L47.6 81.0L48.1 78.6L48.6 80.0L49.1 78.5L49.6 78.3L50.1 78.0L50.6 81.0L51.1 80.9L51.6 78.2L52.1 80.8L52.6 77.8L53.1 79.4L53.6 79.6L54.1 75.7L54.6 80.2L55.1 79.0L55.6 77.1L56.1 80.3L56.6 79.8L57.1 80.1L57.6 79.4L58.1 78.8L58.6 77.7L59.1 79.7L59.6 78.4L60.1 79.2L60.6 80.4L61.1 80.9L61.6 80.4L62.1 80.2L62.6 79.7L63.1 81.7L63.6 81.8L64.1 79.5L64.6 79.8L65.1 79.2L65.6 80.0L66.1 79.6L66.6 83.1L67.1 81.9L67.6 77.7L68.1 80.8L68.6 79.0L69.1 76.2L69.6 79.2L70.1 78.1L70.6 80.0L71.1 80.4L71.6 78.9L72.1 81.6L72.6 79.8L73.1 78.2L73.6 77.7L74.1 83.9L74.6 79.5L75.1 80.5L75.6 80.9L76.1 81.8L76.6 79.1L77.1 77.7L77.6 81.9L78.1 79.1L78.6 81.1L79.1 84.6L79.6 80.5L80.1 83.0L80.6 80.4L81.1 86.5L81.6 81.1L82.1 82.2L82.6 81.9L83.1 80.9L83.6 83.9L84.1 81.9L84.6 80.7L85.1 81.4L85.6 81.8L86.1 82.4L86.6 83.1L87.1 81.5L87.6 82.2L88.1 86.2L88.6 82.8L89.1 85.5L89.6 83.0L90.1 84.5L90.6 83.6L91.1 81.3L91.6 83.5L92.1 85.9L92.6 86.3L93.1 86.6L93.6 84.1L94.1 84.7L94.6 83.2L95.1 85.6L95.6 86.6L96.1 85.7L96.6 84.2L97.1 86.5L97.6 85.9L98.1 86.5L98.6 85.6L99.1 86.8L99.6 85.4L100.1 85.6L100.6 83.4L101.1 87.8L101.6 87.3L102.1 85.6L102.6 89.0L103.1 88.4L103.6 89.1L104.1 86.1L104.6 85.7L105.1 86.8L105.6 87.7L106.1 89.0L106.6 85.8L107.1 87.6L107.6 85.1L108.1 88.0L108.6 90.2L109.1 90.3L109.6 92.8L110.1 90.6L110.6 88.9L111.1 88.1L111.6 89.9L112.1 91.8L112.6 86.9L113.1 87.4L113.6 89.2L114.1 88.5L114.6 90.6L115.1 88.7L115.6 89.4L116.1 89.3L116.6 89.6L117.1 92.3L117.6 88.4L118.1 87.8L118.6 88.6L119.1 90.3L119.6 91.2L120.1 92.6L120.6 92.8L121.1 93.2L121.6 90.2L122.1 92.3L122.6 94.0L123.1 91.8L123.6 93.3L124.1 93.6L124.6 95.3L125.1 93.4L125.6 92.4L126.1 94.9L126.6 95.3L127.1 97.7L127.6 96.0L128.1 97.2L128.6 96.9L129.1 97.2L129.6 101.2L130.1 94.8L130.6 100.1L131.1 98.3L131.6 100.0L132.1 97.3L132.6 100.0L133.1 99.0L133.6 101.4L134.1 103.3L134.6 99.3L135.1 98.7L135.6 103.0L136.1 104.3L136.6 102.0L137.1 99.2L137.6 100.5L138.1 104.3L138.6 106.0L139.1 103.5L139.6 102.2L140.1 106.2L140.6 102.8L141.1 103.8L141.6 104.6L142.1 104.6L142.6 107.0L143.1 104.7L143.6 106.9L144.1 108.9L144.6 109.8L145.1 110.5L145.6 108.5L146.1 106.4L146.6 109.8L147.1 110.2L147.6 110.4L148.1 109.5L148.6 111.0L149.1 109.0L149.6 111.9L150.1 113.5L150.6 111.1L151.1 111.0L151.6 112.1L152.1 112.1L152.6 112.6L153.1 112.5L153.6 111.7L154.1 115.1L154.6 111.4L155.1 115.7L155.6 113.1L156.1 115.4L156.6 114.0L157.1 113.3L157.6 113.9L158.1 114.6L158.6 118.2L159.1 115.6L159.6 115.8L160.1 115.8L160.6 117.3L161.1 117.6L161.6 118.6L162.1 117.2L162.6 116.9L163.1 118.9L163.6 120.6L164.1 120.9L164.6 118.7L165.1 119.9L165.6 121.7L166.1 120.9L166.6 119.9L167.1 122.7L167.6 122.5L168.1 124.1L168.6 125.3L169.1 124.1L169.6 124.2L170.1 125.0L170.6 127.9L171.1 127.5L171.6 129.0L172.1 127.7L172.6 129.8L173.1 128.2L173.6 127.7L174.1 128.9L174.6 129.2L175.1 129.5L175.6 129.7L176.1 131.5L176.6 129.5L177.1 128.1L177.6 132.1L178.1 134.6L178.6 133.4L179.1 129.7L179.6 132.1L180.1 134.1L180.6 133.6L181.1 135.0L181.6 133.8L182.1 128.0L182.6 133.3L183.1 131.5L183.6 131.9L184.1 131.0L184.6 131.5L185.1 133.1L185.6 135.2L186.1 135.2L186.6 134.4L187.1 135.2L187.6 132.8L188.1 132.0L188.6 136.3L189.1 134.4L189.6 133.2L190.1 135.4L190.6 133.0L191.1 136.8L191.6 132.9L192.1 133.8L192.6 134.5L193.1 134.3L193.6 132.5L194.1 135.3L194.6 134.8L195.1 133.9L195.6 134.2L196.1 131.9L196.6 134.3L197.1 131.7L197.6 130.8L198.1 131.7L198.6 131.6L199.1 131.8L199.6 131.8L200.1 133.5L200.6 128.7L201.1 128.0L201.6 130.3L202.1 131.6L202.6 130.9L203.1 128.9L203.6 129.0L204.1 128.5L204.6 131.3L205.1 127.8L205.6 128.1L206.1 125.4L206.6 128.0L207.1 126.1L207.6 125.4L208.1 124.4L208.6 124.5L209.1 128.7L209.6 125.3L210.1 124.8L210.6 122.3L211.1 121.5L211.6 119.8L212.1 122.0L212.6 122.7L213.1 122.1L213.6 118.8L214.1 121.6L214.6 119.5L215.1 121.5L215.6 118.5L216.1 118.6L216.6 116.7L217.1 116.4L217.6 117.0L218.1 117.7L218.6 117.6L219.1 115.1L219.6 114.3L220.1 116.5L220.6 117.6L221.1 114.3L221.6 114.2L222.1 114.2L222.6 115.0L223.1 115.7L223.6 112.4L224.1 113.7L224.6 115.0L225.1 113.6L225.6 111.8L226.1 110.3L226.6 112.1L227.1 113.6L227.6 112.1L228.1 112.4L228.6 109.7L229.1 110.1L229.6 108.4L230.1 109.9L230.6 108.6L231.1 107.4L231.6 107.5L232.1 108.9L232.6 109.2L233.1 108.7L233.6 111.2L234.1 108.7L234.6 106.2L235.1 109.1L235.6 106.2L236.1 105.8L236.6 108.6L237.1 106.7L237.6 107.4L238.1 106.0L238.6 106.0L239.1 103.6L239.6 107.1L240.1 107.2L240.6 104.8L241.1 106.7L241.6 106.1L242.1 106.6L242.6 106.7L243.1 102.5L243.6 104.8L244.1 103.4L244.6 104.6L245.1 102.9L245.6 105.9L246.1 104.9L246.6 102.1L247.1 102.7L247.6 102.1L248.1 102.0L248.6 102.7L249.1 99.7L249.6 98.8L250.1 102.5L250.6 101.0L251.1 99.6L251.6 98.8L252.1 97.3L252.6 99.4L253.1 97.0L253.6 99.4L254.1 99.3L254.6 97.3L255.1 100.1L255.6 99.4L256.1 98.0L256.6 96.5L257.1 95.9L257.6 95.1L258.1 93.5L258.6 96.0L259.1 96.9L259.6 92.4L260.1 95.1L260.6 94.4L261.1 94.9L261.6 95.7L262.1 96.1L262.6 93.4L263.1 95.7L263.6 94.3L264.1 91.4L264.6 98.1L265.1 94.8L265.6 94.0L266.1 96.1L266.6 94.7L267.1 92.9L267.6 93.4L268.1 93.1L268.6 92.2L269.1 89.0L269.6 92.9L270.1 90.6L270.6 90.5L271.1 91.9L271.6 95.2L272.1 90.3L272.6 92.4L273.1 89.4L273.6 88.4L274.1 89.5L274.6 91.7L275.1 90.3L275.6 90.1L276.1 91.5L276.6 90.0L277.1 88.4L277.6 87.7L278.1 89.1L278.6 90.3L279.1 88.7L279.6 88.6L280.1 87.8L280.6 87.6L281.1 87.1L281.6 87.5L282.1 91.5L282.6 90.4L283.1 90.8L283.6 89.3L284.1 89.3L284.6 90.5L285.1 89.1L285.6 91.1L286.1 89.4L286.6 90.3L287.1 87.4L287.6 91.0L288.1 88.6L288.6 89.3L289.1 86.9L289.6 85.8L290.1 87.7L290.6 83.8L291.1 88.2L291.6 85.2L292.1 87.9L292.6 84.8L293.1 85.2L293.6 85.5L294.1 86.7L294.6 83.9L295.1 86.0L295.6 84.7L296.1 85.5L296.6 82.8L297.1 83.7L297.6 82.5L298.1 82.7L298.6 85.2L299.1 85.6L299.6 82.7L300.1 84.1L300.6 84.5L301.1 83.1L301.6 83.9L302.1 83.2L302.6 85.7L303.1 83.0L303.6 86.1L304.1 80.3L304.6 84.3L305.1 84.2L305.6 82.1L306.1 80.6L306.6 83.1L307.1 81.0L307.6 84.6L308.1 82.9L308.6 82.9L309.1 83.0L309.6 83.7L310.1 82.4L310.6 83.1L311.1 83.0L311.6 81.3L312.1 83.6L312.6 84.7L313.1 84.1L313.6 82.2L314.1 83.5L314.6 80.6L315.1 81.0L315.6 80.5L316.1 81.0L316.6 83.1L317.1 81.0L317.6 81.1L318.1 79.9L318.6 80.6L319.1 79.3L319.6 83.0L320.1 81.6L320.6 83.2L321.1 83.5L321.6 81.5L322.1 81.1L322.6 80.9L323.1 80.1L323.6 77.6L324.1 80.9L324.6 79.0L325.1 78.4L325.6 78.9L326.1 79.6L326.6 80.3L327.1 78.0L327.6 77.2L328.1 80.8L328.6 80.4L329.1 80.7L329.6 79.1L330.1 77.8L330.6 81.6L331.1 81.3L331.6 78.2L332.1 79.5L332.6 80.4L333.1 82.1L333.6 80.8L334.1 79.4L334.6 77.7L335.1 77.7L335.6 78.6L336.1 77.6L336.6 79.9L337.1 79.2L337.6 79.1L338.1 77.5L338.6 79.6L339.1 78.9L339.6 80.2L340.1 77.5L340.6 79.7L341.1 78.1L341.6 80.6L342.1 76.4L342.6 80.2L343.1 81.2L343.6 76.6L344.1 79.3L344.6 78.2L345.1 74.9L345.6 76.0L346.1 78.0L346.6 76.1L347.1 77.4" stroke="#ffd700"/><path d="M36.6 78.6L37.1 76.0L37.6 78.6L38.1 76.7L38.6 79.4L39.1 76.5L39.6 78.0L40.1 79.4L40.6 78.5L41.1 80.1L41.6 79.1L42.1 76.5L42.6 79.1L43.1 76.9L43.6 81.0L44.1 81.4L44.6 80.8L45.1 83.0L45.6 80.9L46.1 82.2L46.6 81.3L47.1 81.1L47.6 81.4L48.1 80.5L48.6 82.6L49.1 78.2L49.6 77.2L50.1 78.5L50.6 81.8L51.1 79.1L51.6 79.0L52.1 79.1L52.6 81.3L53.1 80.7L53.6 82.7L54.1 80.2L54.6 82.5L55.1 79.7L55.6 81.7L56.1 85.0L56.6 80.0L57.1 80.3L57.6 81.9L58.1 79.2L58.6 80.2L59.1 79.9L59.6 81.1L60.1 78.2L60.6 82.8L61.1 80.9L61.6 80.8L62.1 80.7L62.6 80.9L63.1 77.6L63.6 82.9L64.1 80.3L64.6 83.2L65.1 81.6L65.6 81.4L66.1 82.6L66.6 84.1L67.1 81.4L67.6 80.3L68.1 81.9L68.6 77.2L69.1 79.8L69.6 79.5L70.1 80.6L70.6 78.8L71.1 82.1L71.6 80.4L72.1 81.2L72.6 81.2L73.1 80.8L73.6 80.4L74.1 83.5L74.6 82.8L75.1 84.0L75.6 81.7L76.1 82.1L76.6 82.5L77.1 81.9L77.6 81.8L78.1 79.7L78.6 80.7L79.1 81.0L79.6 80.3L80.1 82.6L80.6 83.0L81.1 83.0L81.6 81.8L82.1 84.1L82.6 83.9L83.1 83.6L83.6 82.7L84.1 85.7L84.6 81.9L85.1 81.2L85.6 81.7L86.1 85.6L86.6 83.9L87.1 82.8L87.6 79.7L88.1 83.1L88.6 82.2L89.1 80.3L89.6 85.2L90.1 83.9L90.6 85.4L91.1 83.4L91.6 84.1L92.1 82.4L92.6 84.9L93.1 83.9L93.6 85.9L94.1 85.1L94.6 83.1L95.1 85.3L95.6 85.9L96.1 85.4L96.6 86.6L97.1 88.0L97.6 88.1L98.1 86.0L98.6 82.8L99.1 87.9L99.6 89.9L100.1 87.1L100.6 85.8L101.1 87.6L101.6 87.4L102.1 88.6L102.6 87.0L103.1 90.8L103.6 89.4L104.1 86.3L104.6 89.2L105.1 87.7L105.6 89.0L106.1 88.5L106.6 88.2L107.1 88.8L107.6 87.8L108.1 87.7L108.6 88.9L109.1 89.0L109.6 90.1L110.1 90.1L110.6 87.3L111.1 91.0L111.6 89.3L112.1 91.0L112.6 90.8L113.1 90.2L113.6 90.8L114.1 88.0L114.6 92.9L115.1 94.2L115.6 92.4L116.1 91.2L116.6 93.0L117.1 91.6L117.6 94.9L118.1 91.9L118.6 90.9L119.1 91.1L119.6 91.1L120.1 93.3L120.6 92.3L121.1 93.3L121.6 92.7L122.1 95.6L122.6 94.0L123.1 95.2L123.6 97.8L124.1 96.5L124.6 96.2L125.1 97.2L125.6 99.6L126.1 98.7L126.6 97.1L127.1 100.5L127.6 96.6L128.1 96.0L128.6 98.3L129.1 97.0L129.6 99.8L130.1 99.9L130.6 99.8L131.1 99.3L131.6 98.9L132.1 102.4L132.6 98.3L133.1 102.5L133.6 101.8L134.1 101.6L134.6 102.7L135.1 100.3L135.6 104.8L136.1 104.4L136.6 105.6L137.1 100.9L137.6 104.4L138.1 104.4L138.6 101.4L139.1 104.7L139.6 105.1L140.1 103.9L140.6 105.8L141.1 105.7L141.6 105.1L142.1 105.9L142.6 108.1L143.1 106.0L143.6 108.6L144.1 110.5L144.6 108.9L145.1 109.4L145.6 109.7L146.1 110.7L146.6 106.7L147.1 106.3L147.6 107.8L148.1 107.9L148.6 110.5L149.1 111.0L149.6 110.4L150.1 111.5L150.6 108.8L151.1 109.1L151.6 108.1L152.1 112.2L152.6 112.1L153.1 111.7L153.6 110.7L154.1 111.2L154.6 113.6L155.1 113.6L155.6 115.7L156.1 114.4L156.6 113.4L157.1 112.4L157.6 114.2L158.1 116.8L158.6 118.1L159.1 114.6L159.6 116.9L160.1 115.2L160.6 117.3L161.1 113.2L161.6 116.9L162.1 115.8L162.6 121.1L163.1 118.7L163.6 120.3L164.1 119.8L164.6 118.1L165.1 121.3L165.6 121.8L166.1 120.9L166.6 121.5L167.1 122.5L167.6 121.7L168.1 120.8L168.6 119.0L169.1 120.5L169.6 121.3L170.1 124.4L170.6 125.7L171.1 124.4L171.6 126.3L172.1 121.7L172.6 126.5L173.1 124.9L173.6 128.4L174.1 128.7L174.6 128.7L175.1 128.7L175.6 129.0L176.1 130.3L176.6 127.1L177.1 130.0L177.6 127.4L178.1 126.1L178.6 129.3L179.1 129.7L179.6 129.2L180.1 128.5L180.6 130.7L181.1 129.7L181.6 134.2L182.1 131.3L182.6 131.9L183.1 130.7L183.6 132.7L184.1 134.4L184.6 130.7L185.1 131.3L185.6 129.2L186.1 131.8L186.6 134.3L187.1 129.9L187.6 131.6L188.1 131.1L188.6 131.7L189.1 131.2L189.6 131.8L190.1 130.9L190.6 133.1L191.1 134.4L191.6 133.9L192.1 129.8L192.6 134.3L193.1 133.2L193.6 133.5L194.1 130.0L194.6 129.9L195.1 131.8L195.6 132.9L196.1 128.7L196.6 130.3L197.1 130.6L197.6 129.7L198.1 130.4L198.6 129.2L199.1 131.7L199.6 126.8L200.1 129.4L200.6 128.1L201.1 128.8L201.6 126.9L202.1 123.2L202.6 129.7L203.1 128.0L203.6 127.1L204.1 126.1L204.6 125.9L205.1 124.5L205.6 124.3L206.1 125.9L206.6 122.4L207.1 121.5L207.6 125.5L208.1 121.9L208.6 122.8L209.1 122.0L209.6 122.9L210.1 122.6L210.6 121.8L211.1 120.1L211.6 119.8L212.1 120.9L212.6 123.2L213.1 117.5L213.6 119.7L214.1 120.1L214.6 118.2L215.1 118.9L215.6 117.9L216.1 119.0L216.6 120.1L217.1 116.5L217.6 116.8L218.1 116.8L218.6 115.9L219.1 115.7L219.6 112.2L220.1 115.4L220.6 113.5L221.1 114.1L221.6 115.3L222.1 115.4L222.6 113.6L223.1 113.8L223.6 113.4L224.1 112.0L224.6 115.3L225.1 115.1L225.6 112.0L226.1 114.5L226.6 112.9L227.1 109.7L227.6 112.2L228.1 112.0L228.6 110.8L229.1 108.4L229.6 109.3L230.1 105.9L230.6 109.0L231.1 108.5L231.6 107.2L232.1 106.7L232.6 110.3L233.1 106.2L233.6 109.3L234.1 107.9L234.6 109.6L235.1 105.2L235.6 107.5L236.1 109.0L236.6 106.9L237.1 104.8L237.6 103.6L238.1 105.5L238.6 108.0L239.1 108.7L239.6 106.7L240.1 107.8L240.6 107.7L241.1 106.7L241.6 104.6L242.1 107.3L242.6 104.2L243.1 105.8L243.6 106.8L244.1 107.0L244.6 105.0L245.1 106.3L245.6 106.8L246.1 105.3L246.6 103.2L247.1 103.4L247.6 102.9L248.1 102.5L248.6 103.1L249.1 103.0L249.6 101.4L250.1 102.2L250.6 101.4L251.1 100.6L251.6 99.0L252.1 100.5L252.6 99.6L253.1 99.7L253.6 100.9L254.1 100.1L254.6 99.4L255.1 97.2L255.6 95.8L256.1 96.9L256.6 97.4L257.1 97.0L257.6 98.8L258.1 96.8L258.6 98.1L259.1 95.4L259.6 94.4L260.1 96.6L260.6 93.7L261.1 92.9L261.6 94.5L262.1 95.3L262.6 96.6L263.1 95.2L263.6 96.9L264.1 95.5L264.6 92.8L265.1 93.7L265.6 92.8L266.1 94.8L266.6 92.1L267.1 93.1L267.6 93.5L268.1 95.2L268.6 94.2L269.1 93.2L269.6 93.5L270.1 92.4L270.6 96.3L271.1 89.6L271.6 88.5L272.1 88.5L272.6 89.2L273.1 90.9L273.6 92.8L274.1 91.4L274.6 91.2L275.1 91.3L275.6 91.6L276.1 89.8L276.6 91.9L277.1 91.0L277.6 91.1L278.1 91.4L278.6 90.7L279.1 91.0L279.6 88.6L280.1 90.5L280.6 87.9L281.1 87.3L281.6 89.7L282.1 90.5L282.6 90.3L283.1 90.2L283.6 90.6L284.1 86.4L284.6 87.6L285.1 87.8L285.6 86.7L286.1 88.0L286.6 88.6L287.1 88.2L287.6 87.8L288.1 91.4L288.6 88.2L289.1 88.2L289.6 89.7L290.1 90.1L290.6 86.3L291.1 85.9L291.6 89.4L292.1 88.8L292.6 88.0L293.1 86.4L293.6 88.0L294.1 84.7L294.6 85.5L295.1 89.1L295.6 85.2L296.1 86.6L296.6 87.7L297.1 87.3L297.6 84.9L298.1 84.8L298.6 86.8L299.1 84.9L299.6 88.2L300.1 84.6L300.6 87.4L301.1 84.8L301.6 86.3L302.1 85.5L302.6 85.6L303.1 83.1L303.6 85.7L304.1 84.8L304.6 86.0L305.1 84.6L305.6 83.8L306.1 84.3L306.6 84.9L307.1 86.4L307.6 84.8L308.1 83.7L308.6 83.8L309.1 82.8L309.6 81.8L310.1 83.9L310.6 83.1L311.1 83.3L311.6 86.6L312.1 85.2L312.6 85.8L313.1 84.0L313.6 84.5L314.1 83.2L314.6 81.4L315.1 81.4L315.6 83.2L316.1 84.1L316.6 86.4L317.1 82.8L317.6 80.3L318.1 81.6L318.6 82.3L319.1 80.1L319.6 81.1L320.1 82.4L320.6 81.6L321.1 81.8L321.6 81.2L322.1 81.0L322.6 83.4L323.1 82.6L323.6 81.2L324.1 81.8L324.6 81.1L325.1 81.4L325.6 82.1L326.1 81.9L326.6 85.8L327.1 82.0L327.6 82.4L328.1 84.7L328.6 79.8L329.1 81.1L329.6 82.5L330.1 80.7L330.6 79.7L331.1 78.2L331.6 79.5L332.1 78.5L332.6 81.3L333.1 80.5L333.6 79.1L334.1 80.9L334.6 77.9L335.1 78.2L335.6 80.6L336.1 80.1L336.6 77.8L337.1 78.5L337.6 79.2L338.1 78.6L338.6 80.5L339.1 79.8L339.6 81.1L340.1 79.8L340.6 80.1L341.1 79.0L341.6 79.5L342.1 79.1L342.6 79.5L343.1 78.4L343.6 77.3L344.1 77.3L344.6 79.2L345.1 76.6L345.6 76.6L346.1 79.2L346.6 77.9L347.1 77.8" stroke="#ffa500"/><path d="M36.6 76.8L37.1 77.4L37.6 75.9L38.1 79.4L38.6 80.2L39.1 77.6L39.6 79.1L40.1 79.5L40.6 81.2L41.1 79.0L41.6 79.9L42.1 79.2L42.6 79.3L43.1 79.9L43.6 86.2L44.1 82.7L44.6 81.3L45.1 81.5L45.6 78.3L46.1 79.4L46.6 82.0L47.1 81.0L47.6 82.4L48.1 81.2L48.6 82.1L49.1 81.4L49.6 81.7L50.1 81.4L50.6 82.6L51.1 80.2L51.6 80.3L52.1 79.9L52.6 81.1L53.1 82.3L53.6 81.7L54.1 78.3L54.6 80.5L55.1 80.7L55.6 81.0L56.1 80.5L56.6 81.0L57.1 83.7L57.6 83.2L58.1 85.2L58.6 80.3L59.1 81.1L59.6 81.1L60.1 85.2L60.6 84.8L61.1 82.8L61.6 82.4L62.1 83.5L62.6 84.6L63.1 85.1L63.6 81.8L64.1 83.7L64.6 82.0L65.1 84.8L65.6 86.3L66.1 82.6L66.6 82.7L67.1 77.7L67.6 82.5L68.1 78.5L68.6 80.9L69.1 82.9L69.6 78.5L70.1 85.2L70.6 80.4L71.1 82.8L71.6 80.5L72.1 83.1L72.6 81.6L73.1 82.4L73.6 78.8L74.1 85.1L74.6 85.2L75.1 83.9L75.6 83.9L76.1 82.5L76.6 82.6L77.1 83.5L77.6 83.6L78.1 84.2L78.6 84.4L79.1 83.8L79.6 82.5L80.1 82.4L80.6 82.2L81.1 85.3L81.6 82.0L82.1 82.3L82.6 84.5L83.1 81.8L83.6 83.7L84.1 82.4L84.6 83.8L85.1 90.6L85.6 81.8L86.1 86.8L86.6 84.0L87.1 83.2L87.6 82.7L88.1 86.3L88.6 83.9L89.1 84.7L89.6 87.9L90.1 83.0L90.6 81.7L91.1 85.9L91.6 88.2L92.1 86.6L92.6 88.8L93.1 88.7L93.6 87.4L94.1 85.8L94.6 87.3L95.1 89.1L95.6 87.8L96.1 87.3L96.6 87.8L97.1 87.3L97.6 89.0L98.1 87.4L98.6 90.8L99.1 89.1L99.6 88.9L100.1 85.8L100.6 84.9L101.1 88.8L101.6 88.7L102.1 93.0L102.6 88.0L103.1 87.2L103.6 90.0L104.1 85.4L104.6 89.3L105.1 87.1L105.6 84.0L106.1 85.7L106.6 88.2L107.1 88.6L107.6 88.4L108.1 87.3L108.6 89.0L109.1 89.5L109.6 89.3L110.1 92.4L110.6 91.3L111.1 88.4L111.6 89.3L112.1 89.3L112.6 91.4L113.1 93.2L113.6 94.3L114.1 92.0L114.6 90.8L115.1 90.3L115.6 89.5L116.1 95.1L116.6 91.4L117.1 91.8L117.6 95.8L118.1 92.0L118.6 93.2L119.1 94.0L119.6 90.4L120.1 91.4L120.6 99.9L121.1 95.8L121.6 92.0L122.1 94.5L122.6 95.8L123.1 97.6L123.6 96.8L124.1 95.6L124.6 98.1L125.1 100.5L125.6 97.3L126.1 96.5L126.6 96.9L127.1 95.1L127.6 101.0L128.1 99.7L128.6 99.2L129.1 99.6L129.6 102.0L130.1 99.7L130.6 98.4L131.1 102.7L131.6 96.8L132.1 100.6L132.6 103.6L133.1 104.6L133.6 102.3L134.1 102.5L134.6 103.1L135.1 102.6L135.6 103.9L136.1 106.9L136.6 105.4L137.1 108.0L137.6 106.2L138.1 105.2L138.6 105.5L139.1 110.0L139.6 105.6L140.1 108.3L140.6 105.0L141.1 107.6L141.6 106.1L142.1 106.0L142.6 105.4L143.1 105.6L143.6 107.2L144.1 109.8L144.6 108.3L145.1 106.7L145.6 109.4L146.1 104.7L146.6 109.3L147.1 113.3L147.6 105.5L148.1 109.2L148.6 111.9L149.1 114.0L149.6 113.1L150.1 110.7L150.6 114.3L151.1 114.4L151.6 111.7L152.1 113.3L152.6 111.9L153.1 113.3L153.6 116.3L154.1 112.6L154.6 117.0L155.1 115.8L155.6 116.1L156.1 114.7L156.6 116.6L157.1 115.1L157.6 114.7L158.1 112.0L158.6 114.2L159.1 113.8L159.6 116.1L160.1 115.1L160.6 114.8L161.1 114.4L161.6 114.3L162.1 114.5L162.6 117.1L163.1 114.1L163.6 114.0L164.1 117.7L164.6 119.9L165.1 118.4L165.6 117.7L166.1 121.8L166.6 119.1L167.1 118.4L167.6 120.2L168.1 122.4L168.6 120.0L169.1 122.3L169.6 120.5L170.1 121.7L170.6 122.8L171.1 118.6L171.6 125.2L172.1 123.9L172.6 124.0L173.1 123.4L173.6 123.0L174.1 125.8L174.6 123.8L175.1 125.3L175.6 121.2L176.1 127.3L176.6 124.8L177.1 124.6L177.6 123.0L178.1 123.5L178.6 126.3L179.1 119.9L179.6 127.3L180.1 124.1L180.6 124.2L181.1 125.5L181.6 129.0L182.1 126.6L182.6 128.3L183.1 124.5L183.6 126.3L184.1 129.6L184.6 125.7L185.1 123.8L185.6 127.4L186.1 128.1L186.6 127.6L187.1 128.9L187.6 128.6L188.1 126.4L188.6 128.2L189.1 127.7L189.6 127.8L190.1 125.9L190.6 128.7L191.1 127.9L191.6 130.2L192.1 125.5L192.6 130.2L193.1 126.0L193.6 127.7L194.1 125.1L194.6 124.9L195.1 127.6L195.6 123.3L196.1 127.8L196.6 129.6L197.1 126.8L197.6 122.7L198.1 126.5L198.6 124.8L199.1 125.3L199.6 124.3L200.1 126.0L200.6 127.2L201.1 124.7L201.6 125.9L202.1 122.7L202.6 127.7L203.1 122.0L203.6 121.8L204.1 123.2L204.6 124.7L205.1 124.5L205.6 119.8L206.1 122.9L206.6 122.3L207.1 125.8L207.6 120.2L208.1 117.9L208.6 117.0L209.1 119.2L209.6 120.2L210.1 119.5L210.6 118.6L211.1 117.8L211.6 118.6L212.1 118.5L212.6 122.4L213.1 117.3L213.6 115.3L214.1 116.2L214.6 116.3L215.1 113.3L215.6 116.1L216.1 116.4L216.6 116.0L217.1 114.0L217.6 115.1L218.1 115.7L218.6 116.1L219.1 115.3L219.6 111.8L220.1 115.3L220.6 116.3L221.1 113.1L221.6 108.5L222.1 114.6L222.6 114.6L223.1 112.9L223.6 111.5L224.1 114.5L224.6 114.0L225.1 111.9L225.6 111.4L226.1 111.8L226.6 113.1L227.1 111.7L227.6 109.3L228.1 110.7L228.6 111.1L229.1 111.1L229.6 109.5L230.1 111.9L230.6 109.4L231.1 111.4L231.6 112.1L232.1 110.8L232.6 109.1L233.1 110.3L233.6 105.4L234.1 111.3L234.6 107.0L235.1 106.5L235.6 107.9L236.1 106.8L236.6 107.2L237.1 106.7L237.6 106.7L238.1 108.6L238.6 107.1L239.1 105.4L239.6 106.0L240.1 104.3L240.6 107.6L241.1 104.8L241.6 105.6L242.1 108.5L242.6 105.3L243.1 106.3L243.6 106.3L244.1 102.0L244.6 104.8L245.1 105.6L245.6 103.2L246.1 103.6L246.6 100.9L247.1 101.7L247.6 100.6L248.1 101.4L248.6 98.8L249.1 100.0L249.6 101.7L250.1 99.6L250.6 101.5L251.1 102.8L251.6 101.0L252.1 100.3L252.6 100.4L253.1 98.1L253.6 98.6L254.1 97.8L254.6 98.2L255.1 102.1L255.6 98.4L256.1 99.3L256.6 98.6L257.1 98.8L257.6 98.6L258.1 98.5L258.6 98.7L259.1 97.8L259.6 98.7L260.1 96.8L260.6 96.1L261.1 96.4L261.6 99.3L262.1 94.2L262.6 95.7L263.1 97.6L263.6 96.6L264.1 94.1L264.6 93.8L265.1 96.2L265.6 97.5L266.1 96.0L266.6 94.7L267.1 94.3L267.6 93.8L268.1 93.7L268.6 91.1L269.1 90.9L269.6 92.8L270.1 95.7L270.6 93.4L271.1 90.4L271.6 91.6L272.1 93.3L272.6 92.1L273.1 94.7L273.6 92.9L274.1 92.4L274.6 91.5L275.1 93.6L275.6 93.0L276.1 92.5L276.6 92.8L277.1 90.8L277.6 92.8L278.1 89.5L278.6 92.1L279.1 90.1L279.6 90.2L280.1 89.5L280.6 91.5L281.1 90.5L281.6 92.3L282.1 88.7L282.6 90.6L283.1 88.8L283.6 91.1L284.1 92.7L284.6 88.4L285.1 91.5L285.6 88.2L286.1 92.1L286.6 89.8L287.1 90.0L287.6 87.2L288.1 91.7L288.6 88.9L289.1 88.6L289.6 91.6L290.1 88.5L290.6 88.8L291.1 88.1L291.6 87.7L292.1 91.0L292.6 92.1L293.1 87.9L293.6 91.7L294.1 90.3L294.6 88.2L295.1 90.4L295.6 93.0L296.1 88.4L296.6 88.0L297.1 86.7L297.6 91.6L298.1 89.9L298.6 86.7L299.1 87.3L299.6 88.6L300.1 86.7L300.6 88.5L301.1 86.7L301.6 89.2L302.1 87.5L302.6 87.4L303.1 86.2L303.6 87.7L304.1 87.8L304.6 83.9L305.1 87.4L305.6 88.8L306.1 87.8L306.6 86.7L307.1 85.7L307.6 83.8L308.1 83.8L308.6 85.3L309.1 84.4L309.6 85.9L310.1 84.5L310.6 85.2L311.1 87.3L311.6 85.4L312.1 86.4L312.6 82.5L313.1 85.8L313.6 82.5L314.1 86.5L314.6 81.3L315.1 82.1L315.6 85.2L316.1 87.6L316.6 82.1L317.1 84.2L317.6 83.1L318.1 87.4L318.6 88.6L319.1 85.7L319.6 86.6L320.1 83.9L320.6 82.3L321.1 84.4L321.6 83.0L322.1 85.3L322.6 83.8L323.1 86.1L323.6 83.4L324.1 83.8L324.6 85.0L325.1 83.9L325.6 86.1L326.1 82.6L326.6 81.6L327.1 84.3L327.6 83.3L328.1 81.7L328.6 80.4L329.1 81.4L329.6 82.1L330.1 81.5L330.6 79.9L331.1 80.0L331.6 82.0L332.1 83.2L332.6 83.5L333.1 79.7L333.6 78.8L334.1 81.7L334.6 80.3L335.1 82.2L335.6 83.1L336.1 80.9L336.6 81.3L337.1 79.0L337.6 78.9L338.1 82.3L338.6 84.1L339.1 77.8L339.6 78.1L340.1 79.2L340.6 81.0L341.1 76.5L341.6 79.2L342.1 81.1L342.6 75.3L343.1 76.9L343.6 80.1L344.1 80.7L344.6 77.6L345.1 80.2L345.6 80.7L346.1 77.1L346.6 79.8L347.1 78.8" stroke="#ff0000"/></g>
<rect x="36.6" y="19.0" width="310.8" height="258.7" fill="none" stroke="#bdbdbd" stroke-width="1.4"/>
<rect x="41.5" y="181" width="52" height="90.3" fill="#fff" stroke="#c0c0c0" stroke-width="1"/>
<g stroke-width="1.8"><line x1="44" y1="187.0" x2="64" y2="187.0" stroke="#000088"/><line x1="44" y1="196.9" x2="64" y2="196.9" stroke="#4169e1"/><line x1="44" y1="206.8" x2="64" y2="206.8" stroke="#add8e6"/><line x1="44" y1="216.6" x2="64" y2="216.6" stroke="#00ffff"/><line x1="44" y1="226.4" x2="64" y2="226.4" stroke="#90ee90"/><line x1="44" y1="236.2" x2="64" y2="236.2" stroke="#32cd32"/><line x1="44" y1="246.0" x2="64" y2="246.0" stroke="#ffd700"/><line x1="44" y1="255.8" x2="64" y2="255.8" stroke="#ffa500"/><line x1="44" y1="265.6" x2="64" y2="265.6" stroke="#ff0000"/></g>
<rect x="231.5" y="158.6" width="111.3" height="95.6" fill="#fff"/>
<g stroke="#e9e9e9" stroke-width="0.7" fill="none"><line x1="259.3" y1="158.6" x2="259.3" y2="254.2"/><line x1="287.1" y1="158.6" x2="287.1" y2="254.2"/><line x1="315.0" y1="158.6" x2="315.0" y2="254.2"/><line x1="231.5" y1="230.3" x2="342.8" y2="230.3"/><line x1="231.5" y1="206.4" x2="342.8" y2="206.4"/><line x1="231.5" y1="182.5" x2="342.8" y2="182.5"/></g>
<g fill="#ff5010" stroke="#ff5010" stroke-width="0.3"><rect x="242.2" y="173.1" width="6.4" height="6.4"/><rect x="249.2" y="173.1" width="6.4" height="6.4"/><rect x="256.1" y="173.1" width="6.4" height="6.4"/><rect x="263.1" y="174.1" width="6.4" height="6.4"/><rect x="270.0" y="174.9" width="6.4" height="6.4"/><rect x="277.0" y="177.7" width="6.4" height="6.4"/><rect x="283.9" y="181.1" width="6.4" height="6.4"/><rect x="290.9" y="185.0" width="6.4" height="6.4"/><rect x="297.9" y="190.4" width="6.4" height="6.4"/></g>
<path d="M241.0 176.3L242.2 176.3L243.5 176.3L244.7 176.3L246.0 176.3L247.2 176.4L248.5 176.4L249.7 176.4L251.0 176.5L252.3 176.5L253.5 176.6L254.8 176.7L256.0 176.8L257.3 176.9L258.5 177.0L259.8 177.2L261.0 177.3L262.3 177.5L263.5 177.7L264.8 177.9L266.1 178.1L267.3 178.3L268.6 178.6L269.8 178.9L271.1 179.2L272.3 179.5L273.6 179.8L274.8 180.2L276.1 180.6L277.3 181.0L278.6 181.5L279.8 182.0L281.1 182.5L282.4 183.0L283.6 183.6L284.9 184.2L286.1 184.8L287.4 185.5L288.6 186.2L289.9 187.0L291.1 187.8L292.4 188.6L293.6 189.5L294.9 190.5L296.2 191.5L297.4 192.5L298.7 193.6L299.9 194.8L301.2 196.0L302.4 197.3L303.7 198.7L304.9 200.2L306.2 201.8L307.4 203.4L308.7 205.2L310.0 207.1L311.2 209.2L312.5 211.5L313.7 213.9L315.0 216.6L315.0 216.6L315.2 217.0L315.4 217.5L315.6 217.9L315.8 218.4L316.0 218.9L316.2 219.4L316.3 219.8L316.5 220.4L316.7 220.9L316.9 221.4L317.1 221.9L317.3 222.5L317.5 223.0L317.7 223.6L317.9 224.2L318.1 224.8L318.3 225.4L318.5 226.0L318.7 226.7L318.9 227.3L319.1 228.0L319.3 228.7L319.5 229.5L319.7 230.2L319.9 231.0L320.1 231.8L320.3 232.7L320.5 233.6L320.7 234.5L320.9 235.5L321.1 236.6L321.3 237.7L321.4 238.9L321.6 240.2L321.8 241.7L322.0 243.3L322.2 245.3L322.4 247.9L322.6 254.2" fill="none" stroke="#10107a" stroke-width="1.7"/>
<rect x="231.5" y="158.6" width="111.3" height="95.6" fill="none" stroke="#bdbdbd" stroke-width="1.2"/>
<g fill="#262626">
<text transform="translate(32.70,282.20) scale(0.970,1.040)" font-size="12.00" text-anchor="end">0</text><text transform="translate(32.70,249.86) scale(0.970,1.040)" font-size="12.00" text-anchor="end">10</text><text transform="translate(32.70,217.52) scale(0.970,1.040)" font-size="12.00" text-anchor="end">20</text><text transform="translate(32.70,185.19) scale(0.970,1.040)" font-size="12.00" text-anchor="end">30</text><text transform="translate(32.70,152.85) scale(0.970,1.040)" font-size="12.00" text-anchor="end">40</text><text transform="translate(32.70,120.51) scale(0.970,1.040)" font-size="12.00" text-anchor="end">50</text><text transform="translate(32.70,88.17) scale(0.970,1.040)" font-size="12.00" text-anchor="end">60</text><text transform="translate(32.70,55.84) scale(0.970,1.040)" font-size="12.00" text-anchor="end">70</text><text transform="translate(32.70,23.50) scale(0.970,1.040)" font-size="12.00" text-anchor="end">80</text><text x="36.60" y="293.00" font-size="12.00" text-anchor="middle">-1</text><text x="114.30" y="293.00" font-size="12.00" text-anchor="middle">-0.5</text><text x="192.00" y="293.00" font-size="12.00" text-anchor="middle">0</text><text x="269.70" y="293.00" font-size="12.00" text-anchor="middle">0.5</text><text x="347.40" y="293.00" font-size="12.00" text-anchor="middle">1</text><text x="137.00" y="10.60" font-size="13.60">V</text><text x="146.82" y="17.40" font-size="10.80">G</text><text x="158.02" y="10.60" font-size="13.60">= 0V V</text><text x="198.93" y="17.30" font-size="10.80">BG</text><text x="217.34" y="10.60" font-size="13.60">= 30V</text><text x="168.80" y="308.20" font-size="13.60">V</text><text x="178.62" y="313.90" font-size="10.50">D</text><text x="189.60" y="308.20" font-size="13.60">[mV]</text><text transform="translate(67.60,190.10) scale(0.965,1.000)" font-size="8.30">100mK</text><text transform="translate(67.60,200.00) scale(0.965,1.000)" font-size="8.30">200mK</text><text transform="translate(67.60,209.90) scale(0.965,1.000)" font-size="8.30">300mK</text><text transform="translate(67.60,219.70) scale(0.965,1.000)" font-size="8.30">400mK</text><text transform="translate(67.60,229.50) scale(0.965,1.000)" font-size="8.30">500mK</text><text transform="translate(67.60,239.30) scale(0.965,1.000)" font-size="8.30">600mK</text><text transform="translate(67.60,249.10) scale(0.965,1.000)" font-size="8.30">700mK</text><text transform="translate(67.60,258.90) scale(0.965,1.000)" font-size="8.30">800mK</text><text transform="translate(67.60,268.70) scale(0.965,1.000)" font-size="8.30">900mK</text>
<g transform="translate(11.2,176) rotate(-90)"><text x="0.00" y="0.00" font-size="13.70">G</text><text x="10.00" y="5.40" font-size="10.00">Diff</text><text x="35.00" y="0.00" font-size="13.70">[</text><text x="39.56" y="0.00" font-size="13.70" font-style="italic">μ</text><text x="46.44" y="0.00" font-size="13.70">S]</text></g>
<g transform="translate(210.6,232.5) rotate(-90)" stroke="#262626" stroke-width="0.2"><text transform="translate(0.00,0.00) scale(0.930,1.000)" font-size="7.20">Peak</text><text x="12.90" y="4.00" font-size="6.00">Position</text><text x="38.00" y="0.00" font-size="7.30">[mV]</text></g>
<g fill="#2c2c2c" stroke="#2c2c2c" stroke-width="0.15"><text x="228.90" y="256.70" font-size="7.10" text-anchor="end">0</text><text x="228.90" y="232.80" font-size="7.10" text-anchor="end">0.05</text><text x="228.90" y="208.90" font-size="7.10" text-anchor="end">0.1</text><text x="228.90" y="185.00" font-size="7.10" text-anchor="end">0.15</text><text x="228.90" y="161.10" font-size="7.10" text-anchor="end">0.2</text><text x="231.50" y="263.00" font-size="7.10" text-anchor="middle">0</text><text x="259.32" y="263.00" font-size="7.10" text-anchor="middle">0.2</text><text x="287.15" y="263.00" font-size="7.10" text-anchor="middle">0.4</text><text x="314.98" y="263.00" font-size="7.10" text-anchor="middle">0.6</text><text x="342.80" y="263.00" font-size="7.10" text-anchor="middle">0.8</text><text x="280.30" y="271.90" font-size="7.00">T [K]</text></g>
</g>
</svg>
</body></html>
